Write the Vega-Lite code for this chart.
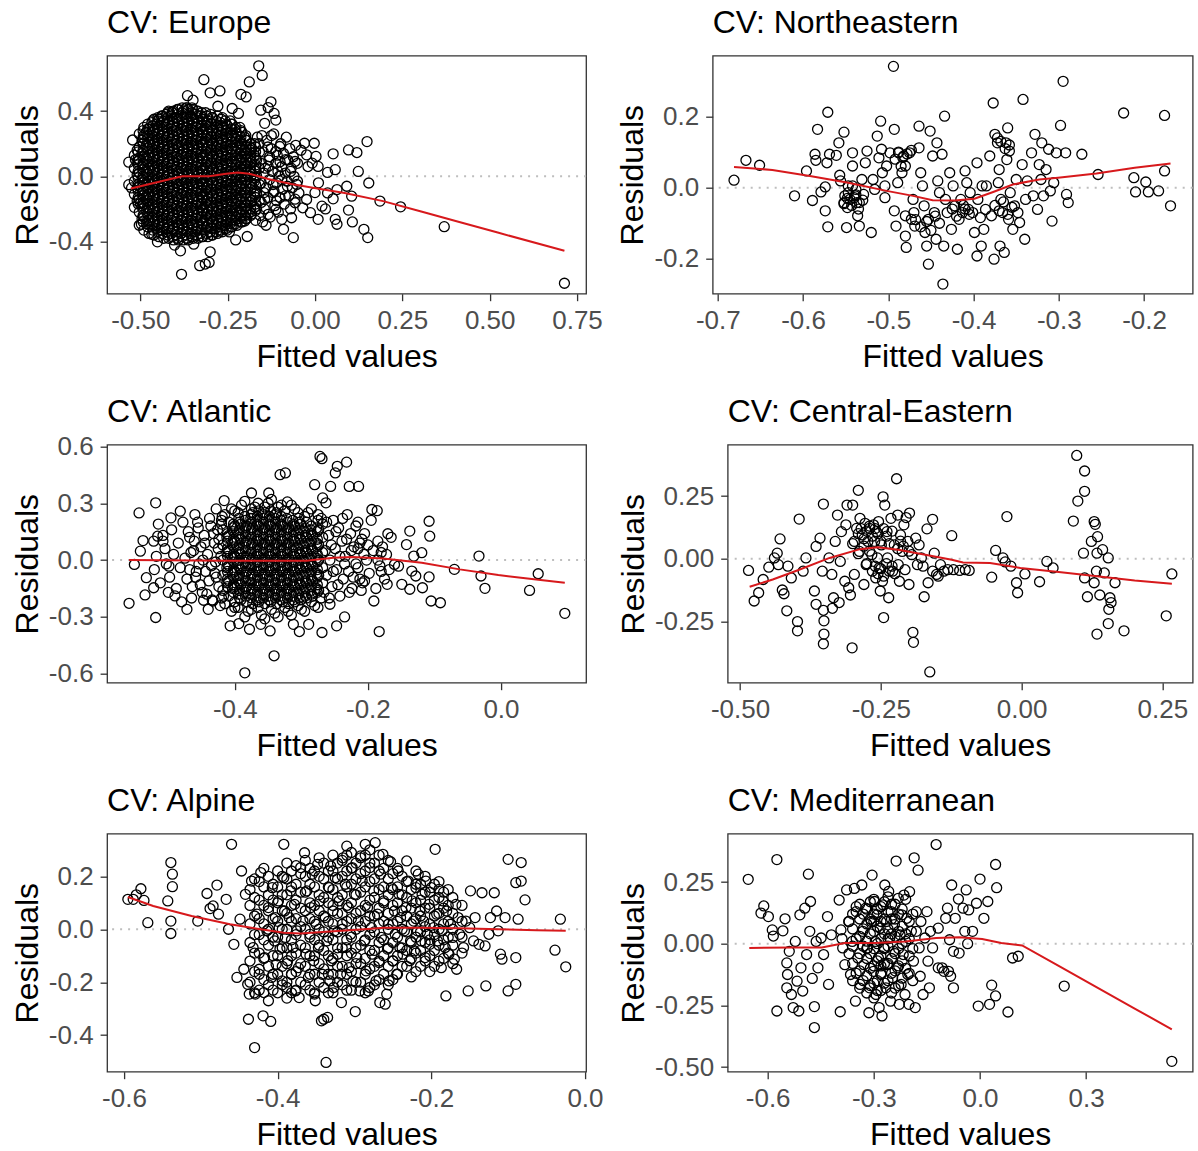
{
"$schema": "https://vega.github.io/schema/vega-lite/v6.json",
"background": "white",
"padding": {"left": 10.1, "top": 5.7, "right": 5, "bottom": 5},
"config": {
 "font": "Liberation Sans",
 "view": {"stroke": "#333333", "strokeWidth": 1.3},
 "axis": {"grid": false, "domain": false, "ticks": true, "tickColor": "#333333", "tickWidth": 1.3, "tickSize": 7, "labelPadding": 7, "labelFont": "Liberation Sans", "labelFontSize": 26, "labelColor": "#4D4D4D", "titleFont": "Liberation Sans", "titleFontSize": 32, "titleFontWeight": "normal", "titleColor": "#000000", "labelFlush": false, "labelOverlap": false},
 "axisX": {"titlePadding": 8},
 "axisY": {"titlePadding": 4},
 "title": {"anchor": "start", "frame": "group", "font": "Liberation Sans", "fontSize": 32, "fontWeight": "normal", "color": "#000000", "baseline": "alphabetic", "offset": 15.5}
},
"datasets": {
"eu": [
{"x":-0.517,"y":-0.19},{"x":-0.509,"y":-0.15},{"x":-0.517,"y":-0.11},{"x":-0.509,"y":-0.07},{"x":-0.517,"y":-0.03},{"x":-0.509,"y":0.01},{"x":-0.517,"y":0.05},{"x":-0.509,"y":0.09},{"x":-0.517,"y":0.13},{"x":-0.509,"y":0.16},
{"x":-0.503,"y":-0.30},{"x":-0.495,"y":-0.26},{"x":-0.503,"y":-0.22},{"x":-0.495,"y":-0.18},{"x":-0.503,"y":-0.14},{"x":-0.495,"y":-0.10},{"x":-0.503,"y":-0.06},{"x":-0.495,"y":-0.02},{"x":-0.503,"y":0.02},{"x":-0.495,"y":0.06},{"x":-0.503,"y":0.10},{"x":-0.495,"y":0.14},{"x":-0.503,"y":0.18},{"x":-0.495,"y":0.22},{"x":-0.503,"y":0.26},
{"x":-0.490,"y":-0.33},{"x":-0.482,"y":-0.29},{"x":-0.490,"y":-0.25},{"x":-0.482,"y":-0.21},{"x":-0.490,"y":-0.17},{"x":-0.482,"y":-0.13},{"x":-0.490,"y":-0.09},{"x":-0.482,"y":-0.05},{"x":-0.490,"y":-0.01},{"x":-0.482,"y":0.03},{"x":-0.490,"y":0.07},{"x":-0.482,"y":0.11},{"x":-0.490,"y":0.15},{"x":-0.482,"y":0.19},{"x":-0.490,"y":0.23},{"x":-0.482,"y":0.27},{"x":-0.490,"y":0.30},
{"x":-0.475,"y":-0.35},{"x":-0.467,"y":-0.31},{"x":-0.475,"y":-0.27},{"x":-0.467,"y":-0.23},{"x":-0.475,"y":-0.19},{"x":-0.467,"y":-0.15},{"x":-0.475,"y":-0.11},{"x":-0.467,"y":-0.07},{"x":-0.475,"y":-0.03},{"x":-0.467,"y":0.01},{"x":-0.475,"y":0.05},{"x":-0.467,"y":0.09},{"x":-0.475,"y":0.13},{"x":-0.467,"y":0.17},{"x":-0.475,"y":0.21},{"x":-0.467,"y":0.25},{"x":-0.475,"y":0.29},{"x":-0.467,"y":0.33},
{"x":-0.461,"y":-0.36},{"x":-0.453,"y":-0.32},{"x":-0.461,"y":-0.28},{"x":-0.453,"y":-0.24},{"x":-0.461,"y":-0.20},{"x":-0.453,"y":-0.16},{"x":-0.461,"y":-0.12},{"x":-0.453,"y":-0.08},{"x":-0.461,"y":-0.04},{"x":-0.453,"y":0.00},{"x":-0.461,"y":0.04},{"x":-0.453,"y":0.08},{"x":-0.461,"y":0.12},{"x":-0.453,"y":0.16},{"x":-0.461,"y":0.20},{"x":-0.453,"y":0.24},{"x":-0.461,"y":0.28},{"x":-0.453,"y":0.32},{"x":-0.461,"y":0.35},
{"x":-0.447,"y":-0.37},{"x":-0.439,"y":-0.33},{"x":-0.447,"y":-0.29},{"x":-0.439,"y":-0.25},{"x":-0.447,"y":-0.21},{"x":-0.439,"y":-0.17},{"x":-0.447,"y":-0.13},{"x":-0.439,"y":-0.09},{"x":-0.447,"y":-0.05},{"x":-0.439,"y":-0.01},{"x":-0.447,"y":0.03},{"x":-0.439,"y":0.07},{"x":-0.447,"y":0.11},{"x":-0.439,"y":0.15},{"x":-0.447,"y":0.19},{"x":-0.439,"y":0.23},{"x":-0.447,"y":0.27},{"x":-0.439,"y":0.31},{"x":-0.447,"y":0.35},{"x":-0.439,"y":0.37},
{"x":-0.433,"y":-0.38},{"x":-0.425,"y":-0.34},{"x":-0.433,"y":-0.30},{"x":-0.425,"y":-0.26},{"x":-0.433,"y":-0.22},{"x":-0.425,"y":-0.18},{"x":-0.433,"y":-0.14},{"x":-0.425,"y":-0.10},{"x":-0.433,"y":-0.06},{"x":-0.425,"y":-0.02},{"x":-0.433,"y":0.02},{"x":-0.425,"y":0.06},{"x":-0.433,"y":0.10},{"x":-0.425,"y":0.14},{"x":-0.433,"y":0.18},{"x":-0.425,"y":0.22},{"x":-0.433,"y":0.26},{"x":-0.425,"y":0.30},{"x":-0.433,"y":0.34},{"x":-0.425,"y":0.38},
{"x":-0.419,"y":-0.38},{"x":-0.411,"y":-0.35},{"x":-0.419,"y":-0.31},{"x":-0.411,"y":-0.27},{"x":-0.419,"y":-0.23},{"x":-0.411,"y":-0.19},{"x":-0.419,"y":-0.15},{"x":-0.411,"y":-0.11},{"x":-0.419,"y":-0.07},{"x":-0.411,"y":-0.03},{"x":-0.419,"y":0.01},{"x":-0.411,"y":0.05},{"x":-0.419,"y":0.09},{"x":-0.411,"y":0.13},{"x":-0.419,"y":0.17},{"x":-0.411,"y":0.21},{"x":-0.419,"y":0.25},{"x":-0.411,"y":0.29},{"x":-0.419,"y":0.33},{"x":-0.411,"y":0.37},{"x":-0.419,"y":0.40},
{"x":-0.405,"y":-0.39},{"x":-0.397,"y":-0.36},{"x":-0.405,"y":-0.32},{"x":-0.397,"y":-0.28},{"x":-0.405,"y":-0.24},{"x":-0.397,"y":-0.20},{"x":-0.405,"y":-0.16},{"x":-0.397,"y":-0.12},{"x":-0.405,"y":-0.08},{"x":-0.397,"y":-0.04},{"x":-0.405,"y":0.00},{"x":-0.397,"y":0.04},{"x":-0.405,"y":0.08},{"x":-0.397,"y":0.12},{"x":-0.405,"y":0.16},{"x":-0.397,"y":0.20},{"x":-0.405,"y":0.24},{"x":-0.397,"y":0.28},{"x":-0.405,"y":0.32},{"x":-0.397,"y":0.36},{"x":-0.405,"y":0.40},
{"x":-0.391,"y":-0.39},{"x":-0.383,"y":-0.35},{"x":-0.391,"y":-0.31},{"x":-0.383,"y":-0.27},{"x":-0.391,"y":-0.23},{"x":-0.383,"y":-0.19},{"x":-0.391,"y":-0.15},{"x":-0.383,"y":-0.11},{"x":-0.391,"y":-0.07},{"x":-0.383,"y":-0.03},{"x":-0.391,"y":0.01},{"x":-0.383,"y":0.05},{"x":-0.391,"y":0.09},{"x":-0.383,"y":0.13},{"x":-0.391,"y":0.17},{"x":-0.383,"y":0.21},{"x":-0.391,"y":0.25},{"x":-0.383,"y":0.29},{"x":-0.391,"y":0.33},{"x":-0.383,"y":0.37},{"x":-0.391,"y":0.41},
{"x":-0.377,"y":-0.39},{"x":-0.369,"y":-0.36},{"x":-0.377,"y":-0.32},{"x":-0.369,"y":-0.28},{"x":-0.377,"y":-0.24},{"x":-0.369,"y":-0.20},{"x":-0.377,"y":-0.16},{"x":-0.369,"y":-0.12},{"x":-0.377,"y":-0.08},{"x":-0.369,"y":-0.04},{"x":-0.377,"y":0.00},{"x":-0.369,"y":0.04},{"x":-0.377,"y":0.08},{"x":-0.369,"y":0.12},{"x":-0.377,"y":0.16},{"x":-0.369,"y":0.20},{"x":-0.377,"y":0.24},{"x":-0.369,"y":0.28},{"x":-0.377,"y":0.32},{"x":-0.369,"y":0.36},{"x":-0.377,"y":0.40},{"x":-0.369,"y":0.42},
{"x":-0.363,"y":-0.39},{"x":-0.355,"y":-0.35},{"x":-0.363,"y":-0.31},{"x":-0.355,"y":-0.27},{"x":-0.363,"y":-0.23},{"x":-0.355,"y":-0.19},{"x":-0.363,"y":-0.15},{"x":-0.355,"y":-0.11},{"x":-0.363,"y":-0.07},{"x":-0.355,"y":-0.03},{"x":-0.363,"y":0.01},{"x":-0.355,"y":0.05},{"x":-0.363,"y":0.09},{"x":-0.355,"y":0.13},{"x":-0.363,"y":0.17},{"x":-0.355,"y":0.21},{"x":-0.363,"y":0.25},{"x":-0.355,"y":0.29},{"x":-0.363,"y":0.33},{"x":-0.355,"y":0.37},{"x":-0.363,"y":0.41},
{"x":-0.349,"y":-0.38},{"x":-0.341,"y":-0.34},{"x":-0.349,"y":-0.30},{"x":-0.341,"y":-0.26},{"x":-0.349,"y":-0.22},{"x":-0.341,"y":-0.18},{"x":-0.349,"y":-0.14},{"x":-0.341,"y":-0.10},{"x":-0.349,"y":-0.06},{"x":-0.341,"y":-0.02},{"x":-0.349,"y":0.02},{"x":-0.341,"y":0.06},{"x":-0.349,"y":0.10},{"x":-0.341,"y":0.14},{"x":-0.349,"y":0.18},{"x":-0.341,"y":0.22},{"x":-0.349,"y":0.26},{"x":-0.341,"y":0.30},{"x":-0.349,"y":0.34},{"x":-0.341,"y":0.38},{"x":-0.349,"y":0.41},
{"x":-0.335,"y":-0.38},{"x":-0.327,"y":-0.35},{"x":-0.335,"y":-0.31},{"x":-0.327,"y":-0.27},{"x":-0.335,"y":-0.23},{"x":-0.327,"y":-0.19},{"x":-0.335,"y":-0.15},{"x":-0.327,"y":-0.11},{"x":-0.335,"y":-0.07},{"x":-0.327,"y":-0.03},{"x":-0.335,"y":0.01},{"x":-0.327,"y":0.05},{"x":-0.335,"y":0.09},{"x":-0.327,"y":0.13},{"x":-0.335,"y":0.17},{"x":-0.327,"y":0.21},{"x":-0.335,"y":0.25},{"x":-0.327,"y":0.29},{"x":-0.335,"y":0.33},{"x":-0.327,"y":0.37},{"x":-0.335,"y":0.40},
{"x":-0.321,"y":-0.37},{"x":-0.313,"y":-0.33},{"x":-0.321,"y":-0.29},{"x":-0.313,"y":-0.25},{"x":-0.321,"y":-0.21},{"x":-0.313,"y":-0.17},{"x":-0.321,"y":-0.13},{"x":-0.313,"y":-0.09},{"x":-0.321,"y":-0.05},{"x":-0.313,"y":-0.01},{"x":-0.321,"y":0.03},{"x":-0.313,"y":0.07},{"x":-0.321,"y":0.11},{"x":-0.313,"y":0.15},{"x":-0.321,"y":0.19},{"x":-0.313,"y":0.23},{"x":-0.321,"y":0.27},{"x":-0.313,"y":0.31},{"x":-0.321,"y":0.35},{"x":-0.313,"y":0.39},
{"x":-0.307,"y":-0.37},{"x":-0.299,"y":-0.34},{"x":-0.307,"y":-0.30},{"x":-0.299,"y":-0.26},{"x":-0.307,"y":-0.22},{"x":-0.299,"y":-0.18},{"x":-0.307,"y":-0.14},{"x":-0.299,"y":-0.10},{"x":-0.307,"y":-0.06},{"x":-0.299,"y":-0.02},{"x":-0.307,"y":0.02},{"x":-0.299,"y":0.06},{"x":-0.307,"y":0.10},{"x":-0.299,"y":0.14},{"x":-0.307,"y":0.18},{"x":-0.299,"y":0.22},{"x":-0.307,"y":0.26},{"x":-0.299,"y":0.30},{"x":-0.307,"y":0.34},{"x":-0.299,"y":0.38},
{"x":-0.293,"y":-0.36},{"x":-0.285,"y":-0.32},{"x":-0.293,"y":-0.28},{"x":-0.285,"y":-0.24},{"x":-0.293,"y":-0.20},{"x":-0.285,"y":-0.16},{"x":-0.293,"y":-0.12},{"x":-0.285,"y":-0.08},{"x":-0.293,"y":-0.04},{"x":-0.285,"y":0.00},{"x":-0.293,"y":0.04},{"x":-0.285,"y":0.08},{"x":-0.293,"y":0.12},{"x":-0.285,"y":0.16},{"x":-0.293,"y":0.20},{"x":-0.285,"y":0.24},{"x":-0.293,"y":0.28},{"x":-0.285,"y":0.32},{"x":-0.293,"y":0.36},
{"x":-0.279,"y":-0.35},{"x":-0.271,"y":-0.31},{"x":-0.279,"y":-0.27},{"x":-0.271,"y":-0.23},{"x":-0.279,"y":-0.19},{"x":-0.271,"y":-0.15},{"x":-0.279,"y":-0.11},{"x":-0.271,"y":-0.07},{"x":-0.279,"y":-0.03},{"x":-0.271,"y":0.01},{"x":-0.279,"y":0.05},{"x":-0.271,"y":0.09},{"x":-0.279,"y":0.13},{"x":-0.271,"y":0.17},{"x":-0.279,"y":0.21},{"x":-0.271,"y":0.25},{"x":-0.279,"y":0.29},{"x":-0.271,"y":0.33},{"x":-0.279,"y":0.37},
{"x":-0.265,"y":-0.34},{"x":-0.257,"y":-0.30},{"x":-0.265,"y":-0.26},{"x":-0.257,"y":-0.22},{"x":-0.265,"y":-0.18},{"x":-0.257,"y":-0.14},{"x":-0.265,"y":-0.10},{"x":-0.257,"y":-0.06},{"x":-0.265,"y":-0.02},{"x":-0.257,"y":0.02},{"x":-0.265,"y":0.06},{"x":-0.257,"y":0.10},{"x":-0.265,"y":0.14},{"x":-0.257,"y":0.18},{"x":-0.265,"y":0.22},{"x":-0.257,"y":0.26},{"x":-0.265,"y":0.30},{"x":-0.257,"y":0.34},{"x":-0.265,"y":0.36},
{"x":-0.251,"y":-0.33},{"x":-0.243,"y":-0.29},{"x":-0.251,"y":-0.25},{"x":-0.243,"y":-0.21},{"x":-0.251,"y":-0.17},{"x":-0.243,"y":-0.13},{"x":-0.251,"y":-0.09},{"x":-0.243,"y":-0.05},{"x":-0.251,"y":-0.01},{"x":-0.243,"y":0.03},{"x":-0.251,"y":0.07},{"x":-0.243,"y":0.11},{"x":-0.251,"y":0.15},{"x":-0.243,"y":0.19},{"x":-0.251,"y":0.23},{"x":-0.243,"y":0.27},{"x":-0.251,"y":0.31},{"x":-0.243,"y":0.34},
{"x":-0.237,"y":-0.31},{"x":-0.229,"y":-0.27},{"x":-0.237,"y":-0.23},{"x":-0.229,"y":-0.19},{"x":-0.237,"y":-0.15},{"x":-0.229,"y":-0.11},{"x":-0.237,"y":-0.07},{"x":-0.229,"y":-0.03},{"x":-0.237,"y":0.01},{"x":-0.229,"y":0.05},{"x":-0.237,"y":0.09},{"x":-0.229,"y":0.13},{"x":-0.237,"y":0.17},{"x":-0.229,"y":0.21},{"x":-0.237,"y":0.25},{"x":-0.229,"y":0.29},{"x":-0.237,"y":0.32},
{"x":-0.223,"y":-0.30},{"x":-0.215,"y":-0.26},{"x":-0.223,"y":-0.22},{"x":-0.215,"y":-0.18},{"x":-0.223,"y":-0.14},{"x":-0.215,"y":-0.10},{"x":-0.223,"y":-0.06},{"x":-0.215,"y":-0.02},{"x":-0.223,"y":0.02},{"x":-0.215,"y":0.06},{"x":-0.223,"y":0.10},{"x":-0.215,"y":0.14},{"x":-0.223,"y":0.18},{"x":-0.215,"y":0.22},{"x":-0.223,"y":0.26},{"x":-0.215,"y":0.30},
{"x":-0.209,"y":-0.28},{"x":-0.201,"y":-0.24},{"x":-0.209,"y":-0.20},{"x":-0.201,"y":-0.16},{"x":-0.209,"y":-0.12},{"x":-0.201,"y":-0.08},{"x":-0.209,"y":-0.04},{"x":-0.201,"y":0.00},{"x":-0.209,"y":0.04},{"x":-0.201,"y":0.08},{"x":-0.209,"y":0.12},{"x":-0.201,"y":0.16},{"x":-0.209,"y":0.20},{"x":-0.201,"y":0.24},{"x":-0.209,"y":0.27},
{"x":-0.195,"y":-0.26},{"x":-0.187,"y":-0.22},{"x":-0.195,"y":-0.18},{"x":-0.187,"y":-0.14},{"x":-0.195,"y":-0.10},{"x":-0.187,"y":-0.06},{"x":-0.195,"y":-0.02},{"x":-0.187,"y":0.02},{"x":-0.195,"y":0.06},{"x":-0.187,"y":0.10},{"x":-0.195,"y":0.14},{"x":-0.187,"y":0.18},{"x":-0.195,"y":0.22},
{"x":-0.181,"y":-0.23},{"x":-0.173,"y":-0.19},{"x":-0.181,"y":-0.15},{"x":-0.173,"y":-0.11},{"x":-0.181,"y":-0.07},{"x":-0.173,"y":-0.03},{"x":-0.181,"y":0.01},{"x":-0.173,"y":0.05},{"x":-0.181,"y":0.09},{"x":-0.173,"y":0.13},{"x":-0.181,"y":0.17},{"x":-0.173,"y":0.20},
{"x":-0.167,"y":-0.20},{"x":-0.159,"y":-0.15},{"x":-0.167,"y":-0.10},{"x":-0.159,"y":-0.05},{"x":-0.167,"y":0.00},{"x":-0.159,"y":0.05},{"x":-0.167,"y":0.10},{"x":-0.159,"y":0.15},
{"x":-0.154,"y":-0.16},{"x":-0.146,"y":-0.10},{"x":-0.154,"y":-0.04},{"x":-0.146,"y":0.02},{"x":-0.154,"y":0.08},
{"x":-0.506,"y":-0.17},{"x":-0.506,"y":-0.13},{"x":-0.506,"y":-0.09},{"x":-0.506,"y":-0.05},{"x":-0.506,"y":-0.01},{"x":-0.506,"y":0.03},{"x":-0.506,"y":0.07},{"x":-0.506,"y":0.11},{"x":-0.506,"y":0.15},
{"x":-0.492,"y":-0.28},{"x":-0.492,"y":-0.24},{"x":-0.492,"y":-0.20},{"x":-0.492,"y":-0.16},{"x":-0.492,"y":-0.12},{"x":-0.492,"y":-0.08},{"x":-0.492,"y":-0.04},{"x":-0.492,"y":0.00},{"x":-0.492,"y":0.04},{"x":-0.492,"y":0.08},{"x":-0.492,"y":0.12},{"x":-0.492,"y":0.16},{"x":-0.492,"y":0.20},{"x":-0.492,"y":0.24},{"x":-0.492,"y":0.28},
{"x":-0.479,"y":-0.31},{"x":-0.479,"y":-0.27},{"x":-0.479,"y":-0.23},{"x":-0.479,"y":-0.19},{"x":-0.479,"y":-0.15},{"x":-0.479,"y":-0.11},{"x":-0.479,"y":-0.07},{"x":-0.479,"y":-0.03},{"x":-0.479,"y":0.01},{"x":-0.479,"y":0.05},{"x":-0.479,"y":0.09},{"x":-0.479,"y":0.13},{"x":-0.479,"y":0.17},{"x":-0.479,"y":0.21},{"x":-0.479,"y":0.25},{"x":-0.479,"y":0.29},{"x":-0.479,"y":0.32},
{"x":-0.464,"y":-0.33},{"x":-0.464,"y":-0.29},{"x":-0.464,"y":-0.25},{"x":-0.464,"y":-0.21},{"x":-0.464,"y":-0.17},{"x":-0.464,"y":-0.13},{"x":-0.464,"y":-0.09},{"x":-0.464,"y":-0.05},{"x":-0.464,"y":-0.01},{"x":-0.464,"y":0.03},{"x":-0.464,"y":0.07},{"x":-0.464,"y":0.11},{"x":-0.464,"y":0.15},{"x":-0.464,"y":0.19},{"x":-0.464,"y":0.23},{"x":-0.464,"y":0.27},{"x":-0.464,"y":0.31},{"x":-0.464,"y":0.34},
{"x":-0.450,"y":-0.34},{"x":-0.450,"y":-0.30},{"x":-0.450,"y":-0.26},{"x":-0.450,"y":-0.22},{"x":-0.450,"y":-0.18},{"x":-0.450,"y":-0.14},{"x":-0.450,"y":-0.10},{"x":-0.450,"y":-0.06},{"x":-0.450,"y":-0.02},{"x":-0.450,"y":0.02},{"x":-0.450,"y":0.06},{"x":-0.450,"y":0.10},{"x":-0.450,"y":0.14},{"x":-0.450,"y":0.18},{"x":-0.450,"y":0.22},{"x":-0.450,"y":0.26},{"x":-0.450,"y":0.30},{"x":-0.450,"y":0.34},{"x":-0.450,"y":0.36},
{"x":-0.436,"y":-0.35},{"x":-0.436,"y":-0.31},{"x":-0.436,"y":-0.27},{"x":-0.436,"y":-0.23},{"x":-0.436,"y":-0.19},{"x":-0.436,"y":-0.15},{"x":-0.436,"y":-0.11},{"x":-0.436,"y":-0.07},{"x":-0.436,"y":-0.03},{"x":-0.436,"y":0.01},{"x":-0.436,"y":0.05},{"x":-0.436,"y":0.09},{"x":-0.436,"y":0.13},{"x":-0.436,"y":0.17},{"x":-0.436,"y":0.21},{"x":-0.436,"y":0.25},{"x":-0.436,"y":0.29},{"x":-0.436,"y":0.33},{"x":-0.436,"y":0.37},
{"x":-0.422,"y":-0.36},{"x":-0.422,"y":-0.32},{"x":-0.422,"y":-0.28},{"x":-0.422,"y":-0.24},{"x":-0.422,"y":-0.20},{"x":-0.422,"y":-0.16},{"x":-0.422,"y":-0.12},{"x":-0.422,"y":-0.08},{"x":-0.422,"y":-0.04},{"x":-0.422,"y":0.00},{"x":-0.422,"y":0.04},{"x":-0.422,"y":0.08},{"x":-0.422,"y":0.12},{"x":-0.422,"y":0.16},{"x":-0.422,"y":0.20},{"x":-0.422,"y":0.24},{"x":-0.422,"y":0.28},{"x":-0.422,"y":0.32},{"x":-0.422,"y":0.36},{"x":-0.422,"y":0.39},
{"x":-0.408,"y":-0.37},{"x":-0.408,"y":-0.33},{"x":-0.408,"y":-0.29},{"x":-0.408,"y":-0.25},{"x":-0.408,"y":-0.21},{"x":-0.408,"y":-0.17},{"x":-0.408,"y":-0.13},{"x":-0.408,"y":-0.09},{"x":-0.408,"y":-0.05},{"x":-0.408,"y":-0.01},{"x":-0.408,"y":0.03},{"x":-0.408,"y":0.07},{"x":-0.408,"y":0.11},{"x":-0.408,"y":0.15},{"x":-0.408,"y":0.19},{"x":-0.408,"y":0.23},{"x":-0.408,"y":0.27},{"x":-0.408,"y":0.31},{"x":-0.408,"y":0.35},{"x":-0.408,"y":0.39},
{"x":-0.394,"y":-0.38},{"x":-0.394,"y":-0.34},{"x":-0.394,"y":-0.30},{"x":-0.394,"y":-0.26},{"x":-0.394,"y":-0.22},{"x":-0.394,"y":-0.18},{"x":-0.394,"y":-0.14},{"x":-0.394,"y":-0.10},{"x":-0.394,"y":-0.06},{"x":-0.394,"y":-0.02},{"x":-0.394,"y":0.02},{"x":-0.394,"y":0.06},{"x":-0.394,"y":0.10},{"x":-0.394,"y":0.14},{"x":-0.394,"y":0.18},{"x":-0.394,"y":0.22},{"x":-0.394,"y":0.26},{"x":-0.394,"y":0.30},{"x":-0.394,"y":0.34},{"x":-0.394,"y":0.38},{"x":-0.394,"y":0.41},
{"x":-0.380,"y":-0.37},{"x":-0.380,"y":-0.33},{"x":-0.380,"y":-0.29},{"x":-0.380,"y":-0.25},{"x":-0.380,"y":-0.21},{"x":-0.380,"y":-0.17},{"x":-0.380,"y":-0.13},{"x":-0.380,"y":-0.09},{"x":-0.380,"y":-0.05},{"x":-0.380,"y":-0.01},{"x":-0.380,"y":0.03},{"x":-0.380,"y":0.07},{"x":-0.380,"y":0.11},{"x":-0.380,"y":0.15},{"x":-0.380,"y":0.19},{"x":-0.380,"y":0.23},{"x":-0.380,"y":0.27},{"x":-0.380,"y":0.31},{"x":-0.380,"y":0.35},{"x":-0.380,"y":0.39},{"x":-0.380,"y":0.42},
{"x":-0.366,"y":-0.38},{"x":-0.366,"y":-0.34},{"x":-0.366,"y":-0.30},{"x":-0.366,"y":-0.26},{"x":-0.366,"y":-0.22},{"x":-0.366,"y":-0.18},{"x":-0.366,"y":-0.14},{"x":-0.366,"y":-0.10},{"x":-0.366,"y":-0.06},{"x":-0.366,"y":-0.02},{"x":-0.366,"y":0.02},{"x":-0.366,"y":0.06},{"x":-0.366,"y":0.10},{"x":-0.366,"y":0.14},{"x":-0.366,"y":0.18},{"x":-0.366,"y":0.22},{"x":-0.366,"y":0.26},{"x":-0.366,"y":0.30},{"x":-0.366,"y":0.34},{"x":-0.366,"y":0.38},{"x":-0.366,"y":0.42},
{"x":-0.352,"y":-0.37},{"x":-0.352,"y":-0.33},{"x":-0.352,"y":-0.29},{"x":-0.352,"y":-0.25},{"x":-0.352,"y":-0.21},{"x":-0.352,"y":-0.17},{"x":-0.352,"y":-0.13},{"x":-0.352,"y":-0.09},{"x":-0.352,"y":-0.05},{"x":-0.352,"y":-0.01},{"x":-0.352,"y":0.03},{"x":-0.352,"y":0.07},{"x":-0.352,"y":0.11},{"x":-0.352,"y":0.15},{"x":-0.352,"y":0.19},{"x":-0.352,"y":0.23},{"x":-0.352,"y":0.27},{"x":-0.352,"y":0.31},{"x":-0.352,"y":0.35},{"x":-0.352,"y":0.39},{"x":-0.352,"y":0.42},
{"x":-0.338,"y":-0.36},{"x":-0.338,"y":-0.32},{"x":-0.338,"y":-0.28},{"x":-0.338,"y":-0.24},{"x":-0.338,"y":-0.20},{"x":-0.338,"y":-0.16},{"x":-0.338,"y":-0.12},{"x":-0.338,"y":-0.08},{"x":-0.338,"y":-0.04},{"x":-0.338,"y":0.00},{"x":-0.338,"y":0.04},{"x":-0.338,"y":0.08},{"x":-0.338,"y":0.12},{"x":-0.338,"y":0.16},{"x":-0.338,"y":0.20},{"x":-0.338,"y":0.24},{"x":-0.338,"y":0.28},{"x":-0.338,"y":0.32},{"x":-0.338,"y":0.36},{"x":-0.338,"y":0.40},
{"x":-0.324,"y":-0.37},{"x":-0.324,"y":-0.33},{"x":-0.324,"y":-0.29},{"x":-0.324,"y":-0.25},{"x":-0.324,"y":-0.21},{"x":-0.324,"y":-0.17},{"x":-0.324,"y":-0.13},{"x":-0.324,"y":-0.09},{"x":-0.324,"y":-0.05},{"x":-0.324,"y":-0.01},{"x":-0.324,"y":0.03},{"x":-0.324,"y":0.07},{"x":-0.324,"y":0.11},{"x":-0.324,"y":0.15},{"x":-0.324,"y":0.19},{"x":-0.324,"y":0.23},{"x":-0.324,"y":0.27},{"x":-0.324,"y":0.31},{"x":-0.324,"y":0.35},{"x":-0.324,"y":0.39},
{"x":-0.310,"y":-0.35},{"x":-0.310,"y":-0.31},{"x":-0.310,"y":-0.27},{"x":-0.310,"y":-0.23},{"x":-0.310,"y":-0.19},{"x":-0.310,"y":-0.15},{"x":-0.310,"y":-0.11},{"x":-0.310,"y":-0.07},{"x":-0.310,"y":-0.03},{"x":-0.310,"y":0.01},{"x":-0.310,"y":0.05},{"x":-0.310,"y":0.09},{"x":-0.310,"y":0.13},{"x":-0.310,"y":0.17},{"x":-0.310,"y":0.21},{"x":-0.310,"y":0.25},{"x":-0.310,"y":0.29},{"x":-0.310,"y":0.33},{"x":-0.310,"y":0.37},
{"x":-0.296,"y":-0.36},{"x":-0.296,"y":-0.32},{"x":-0.296,"y":-0.28},{"x":-0.296,"y":-0.24},{"x":-0.296,"y":-0.20},{"x":-0.296,"y":-0.16},{"x":-0.296,"y":-0.12},{"x":-0.296,"y":-0.08},{"x":-0.296,"y":-0.04},{"x":-0.296,"y":0.00},{"x":-0.296,"y":0.04},{"x":-0.296,"y":0.08},{"x":-0.296,"y":0.12},{"x":-0.296,"y":0.16},{"x":-0.296,"y":0.20},{"x":-0.296,"y":0.24},{"x":-0.296,"y":0.28},{"x":-0.296,"y":0.32},{"x":-0.296,"y":0.36},
{"x":-0.282,"y":-0.34},{"x":-0.282,"y":-0.30},{"x":-0.282,"y":-0.26},{"x":-0.282,"y":-0.22},{"x":-0.282,"y":-0.18},{"x":-0.282,"y":-0.14},{"x":-0.282,"y":-0.10},{"x":-0.282,"y":-0.06},{"x":-0.282,"y":-0.02},{"x":-0.282,"y":0.02},{"x":-0.282,"y":0.06},{"x":-0.282,"y":0.10},{"x":-0.282,"y":0.14},{"x":-0.282,"y":0.18},{"x":-0.282,"y":0.22},{"x":-0.282,"y":0.26},{"x":-0.282,"y":0.30},{"x":-0.282,"y":0.34},
{"x":-0.268,"y":-0.33},{"x":-0.268,"y":-0.29},{"x":-0.268,"y":-0.25},{"x":-0.268,"y":-0.21},{"x":-0.268,"y":-0.17},{"x":-0.268,"y":-0.13},{"x":-0.268,"y":-0.09},{"x":-0.268,"y":-0.05},{"x":-0.268,"y":-0.01},{"x":-0.268,"y":0.03},{"x":-0.268,"y":0.07},{"x":-0.268,"y":0.11},{"x":-0.268,"y":0.15},{"x":-0.268,"y":0.19},{"x":-0.268,"y":0.23},{"x":-0.268,"y":0.27},{"x":-0.268,"y":0.31},{"x":-0.268,"y":0.35},
{"x":-0.254,"y":-0.32},{"x":-0.254,"y":-0.28},{"x":-0.254,"y":-0.24},{"x":-0.254,"y":-0.20},{"x":-0.254,"y":-0.16},{"x":-0.254,"y":-0.12},{"x":-0.254,"y":-0.08},{"x":-0.254,"y":-0.04},{"x":-0.254,"y":0.00},{"x":-0.254,"y":0.04},{"x":-0.254,"y":0.08},{"x":-0.254,"y":0.12},{"x":-0.254,"y":0.16},{"x":-0.254,"y":0.20},{"x":-0.254,"y":0.24},{"x":-0.254,"y":0.28},{"x":-0.254,"y":0.32},
{"x":-0.240,"y":-0.31},{"x":-0.240,"y":-0.27},{"x":-0.240,"y":-0.23},{"x":-0.240,"y":-0.19},{"x":-0.240,"y":-0.15},{"x":-0.240,"y":-0.11},{"x":-0.240,"y":-0.07},{"x":-0.240,"y":-0.03},{"x":-0.240,"y":0.01},{"x":-0.240,"y":0.05},{"x":-0.240,"y":0.09},{"x":-0.240,"y":0.13},{"x":-0.240,"y":0.17},{"x":-0.240,"y":0.21},{"x":-0.240,"y":0.25},{"x":-0.240,"y":0.29},{"x":-0.240,"y":0.32},
{"x":-0.226,"y":-0.29},{"x":-0.226,"y":-0.25},{"x":-0.226,"y":-0.21},{"x":-0.226,"y":-0.17},{"x":-0.226,"y":-0.13},{"x":-0.226,"y":-0.09},{"x":-0.226,"y":-0.05},{"x":-0.226,"y":-0.01},{"x":-0.226,"y":0.03},{"x":-0.226,"y":0.07},{"x":-0.226,"y":0.11},{"x":-0.226,"y":0.15},{"x":-0.226,"y":0.19},{"x":-0.226,"y":0.23},{"x":-0.226,"y":0.27},{"x":-0.226,"y":0.30},
{"x":-0.212,"y":-0.28},{"x":-0.212,"y":-0.24},{"x":-0.212,"y":-0.20},{"x":-0.212,"y":-0.16},{"x":-0.212,"y":-0.12},{"x":-0.212,"y":-0.08},{"x":-0.212,"y":-0.04},{"x":-0.212,"y":0.00},{"x":-0.212,"y":0.04},{"x":-0.212,"y":0.08},{"x":-0.212,"y":0.12},{"x":-0.212,"y":0.16},{"x":-0.212,"y":0.20},{"x":-0.212,"y":0.24},{"x":-0.212,"y":0.28},
{"x":-0.198,"y":-0.26},{"x":-0.198,"y":-0.22},{"x":-0.198,"y":-0.18},{"x":-0.198,"y":-0.14},{"x":-0.198,"y":-0.10},{"x":-0.198,"y":-0.06},{"x":-0.198,"y":-0.02},{"x":-0.198,"y":0.02},{"x":-0.198,"y":0.06},{"x":-0.198,"y":0.10},{"x":-0.198,"y":0.14},{"x":-0.198,"y":0.18},{"x":-0.198,"y":0.22},{"x":-0.198,"y":0.25},
{"x":-0.184,"y":-0.24},{"x":-0.184,"y":-0.20},{"x":-0.184,"y":-0.16},{"x":-0.184,"y":-0.12},{"x":-0.184,"y":-0.08},{"x":-0.184,"y":-0.04},{"x":-0.184,"y":0.00},{"x":-0.184,"y":0.04},{"x":-0.184,"y":0.08},{"x":-0.184,"y":0.12},{"x":-0.184,"y":0.16},{"x":-0.184,"y":0.20},
{"x":-0.170,"y":-0.21},{"x":-0.170,"y":-0.17},{"x":-0.170,"y":-0.13},{"x":-0.170,"y":-0.09},{"x":-0.170,"y":-0.05},{"x":-0.170,"y":-0.01},{"x":-0.170,"y":0.03},{"x":-0.170,"y":0.07},{"x":-0.170,"y":0.11},{"x":-0.170,"y":0.15},{"x":-0.170,"y":0.18},
{"x":-0.148,"y":0.15},{"x":-0.145,"y":-0.20},{"x":-0.142,"y":0.05},{"x":-0.140,"y":-0.07},{"x":-0.138,"y":0.22},{"x":-0.135,"y":-0.13},{"x":-0.132,"y":0.10},{"x":-0.130,"y":-0.02},{"x":-0.128,"y":-0.25},{"x":-0.125,"y":0.17},{"x":-0.122,"y":0.03},{"x":-0.120,"y":-0.10},{"x":-0.118,"y":0.26},{"x":-0.115,"y":-0.18},{"x":-0.112,"y":0.08},{"x":-0.110,"y":-0.04},{"x":-0.108,"y":0.13},{"x":-0.105,"y":-0.22},{"x":-0.102,"y":0.00},{"x":-0.100,"y":-0.13},{"x":-0.098,"y":0.20},{"x":-0.095,"y":0.06},{"x":-0.092,"y":-0.08},{"x":-0.090,"y":0.14},{"x":-0.088,"y":-0.17},{"x":-0.085,"y":0.02},{"x":-0.082,"y":0.24},{"x":-0.080,"y":-0.03},{"x":-0.078,"y":0.10},{"x":-0.075,"y":-0.12},{"x":-0.072,"y":0.17},{"x":-0.070,"y":-0.20},{"x":-0.068,"y":0.05},{"x":-0.065,"y":-0.07},{"x":-0.062,"y":0.12},{"x":-0.060,"y":0.00},{"x":-0.057,"y":-0.14},{"x":-0.055,"y":0.19},{"x":-0.052,"y":-0.05},{"x":-0.050,"y":0.08},{"x":-0.160,"y":0.20},{"x":-0.157,"y":-0.24},{"x":-0.152,"y":0.25},{"x":-0.150,"y":-0.28},{"x":-0.165,"y":0.24},{"x":-0.170,"y":-0.27},
{"x":-0.161,"y":0.678},{"x":-0.151,"y":0.619},{"x":-0.318,"y":0.593},{"x":-0.188,"y":0.579},{"x":-0.272,"y":0.524},{"x":-0.300,"y":0.512},{"x":-0.212,"y":0.503},{"x":-0.197,"y":0.487},{"x":-0.126,"y":0.457},{"x":-0.365,"y":0.495},{"x":-0.349,"y":0.467},{"x":-0.278,"y":0.430},{"x":-0.237,"y":0.416},{"x":-0.219,"y":0.386},{"x":-0.155,"y":0.406},{"x":-0.134,"y":0.422},{"x":-0.117,"y":0.386},{"x":-0.112,"y":0.345},{"x":-0.144,"y":0.325},{"x":-0.409,"y":0.396},{"x":-0.489,"y":0.254},{"x":-0.522,"y":0.223},{"x":-0.533,"y":0.087},{"x":-0.514,"y":0.102},{"x":-0.533,"y":-0.051},{"x":-0.525,"y":-0.071},{"x":-0.500,"y":-0.166},{"x":-0.497,"y":-0.294},{"x":-0.467,"y":-0.355},{"x":-0.451,"y":-0.402},{"x":-0.402,"y":-0.422},{"x":-0.385,"y":-0.457},{"x":-0.347,"y":-0.416},{"x":-0.300,"y":-0.463},{"x":-0.303,"y":-0.528},{"x":-0.330,"y":-0.548},{"x":-0.314,"y":-0.538},{"x":-0.382,"y":-0.601},{"x":-0.227,"y":-0.390},{"x":-0.194,"y":-0.369},{"x":-0.245,"y":-0.341},{"x":-0.243,"y":-0.244},{"x":-0.201,"y":-0.274},
{"x":-0.101,"y":0.183},{"x":-0.112,"y":0.152},{"x":-0.084,"y":0.102},{"x":-0.057,"y":0.091},{"x":-0.030,"y":0.203},{"x":-0.002,"y":0.203},{"x":-0.024,"y":0.132},{"x":0.003,"y":0.122},{"x":-0.008,"y":0.081},{"x":0.009,"y":0.061},{"x":0.036,"y":0.024},{"x":0.052,"y":0.138},{"x":0.058,"y":0.041},{"x":0.096,"y":0.162},{"x":0.120,"y":0.146},{"x":0.149,"y":0.213},{"x":0.124,"y":0.030},{"x":0.154,"y":-0.041},{"x":0.091,"y":-0.061},{"x":0.063,"y":-0.081},{"x":0.105,"y":-0.122},{"x":0.052,"y":-0.138},{"x":0.036,"y":-0.102},{"x":0.020,"y":-0.183},{"x":0.009,"y":-0.264},{"x":0.058,"y":-0.264},{"x":0.063,"y":-0.294},{"x":0.096,"y":-0.207},{"x":0.107,"y":-0.280},{"x":0.140,"y":-0.325},{"x":0.151,"y":-0.376},{"x":0.186,"y":-0.152},{"x":0.245,"y":-0.187},{"x":0.370,"y":-0.309},{"x":0.714,"y":-0.656},{"x":-0.062,"y":-0.376},{"x":-0.090,"y":-0.325},{"x":-0.095,"y":-0.264},{"x":-0.067,"y":-0.254},{"x":-0.057,"y":-0.162},{"x":-0.046,"y":-0.102},{"x":-0.079,"y":-0.061},{"x":-0.024,"y":-0.142},{"x":-0.035,"y":-0.193},{"x":-0.013,"y":-0.223},{"x":-0.112,"y":-0.203},{"x":-0.134,"y":-0.233},{"x":-0.144,"y":-0.142},{"x":-0.117,"y":-0.091},{"x":-0.095,"y":-0.020},{"x":-0.134,"y":0.061},{"x":-0.106,"y":0.030},
{"x":-0.130,"y":0.120},{"x":-0.120,"y":-0.050},{"x":-0.140,"y":-0.300},{"x":-0.125,"y":0.250},{"x":-0.100,"y":0.090},{"x":-0.085,"y":-0.120},{"x":-0.070,"y":0.030},{"x":-0.050,"y":-0.030},{"x":-0.110,"y":-0.150},{"x":-0.135,"y":0.180},{"x":-0.020,"y":0.060},{"x":0.010,"y":-0.040},{"x":-0.040,"y":0.160},{"x":0.000,"y":-0.100},{"x":0.030,"y":-0.200}
],
"eu_fit": [{"x":-0.527,"y":-0.075},{"x":-0.5,"y":-0.061},{"x":-0.44,"y":-0.03},{"x":-0.38,"y":0.0},{"x":-0.303,"y":0.0},{"x":-0.254,"y":0.016},{"x":-0.221,"y":0.024},{"x":-0.188,"y":0.016},{"x":-0.134,"y":-0.016},{"x":-0.068,"y":-0.047},{"x":-0.002,"y":-0.071},{"x":0.085,"y":-0.102},{"x":0.195,"y":-0.152},{"x":0.304,"y":-0.216},{"x":0.413,"y":-0.280},{"x":0.523,"y":-0.345},{"x":0.714,"y":-0.457}],
"ne": [
{"x":-0.681,"y":0.021},{"x":-0.667,"y":0.077},{"x":-0.651,"y":0.063},{"x":-0.610,"y":-0.023},{"x":-0.596,"y":0.047},{"x":-0.589,"y":-0.036},{"x":-0.583,"y":0.164},{"x":-0.586,"y":0.094},{"x":-0.585,"y":0.077},{"x":-0.579,"y":-0.012},{"x":-0.574,"y":0.002},{"x":-0.574,"y":-0.065},{"x":-0.571,"y":0.212},{"x":-0.571,"y":-0.110},{"x":-0.569,"y":0.094},{"x":-0.572,"y":0.070},{"x":-0.561,"y":0.091},{"x":-0.558,"y":0.126},{"x":-0.552,"y":0.156},{"x":-0.557,"y":0.035},{"x":-0.556,"y":0.019},{"x":-0.551,"y":-0.023},{"x":-0.552,"y":-0.042},{"x":-0.547,"y":-0.014},{"x":-0.548,"y":-0.056},{"x":-0.549,"y":-0.112},{"x":-0.542,"y":0.098},{"x":-0.542,"y":0.061},{"x":-0.542,"y":0.005},{"x":-0.540,"y":-0.028},{"x":-0.538,"y":-0.005},{"x":-0.537,"y":-0.042},{"x":-0.536,"y":-0.079},{"x":-0.534,"y":-0.108},{"x":-0.529,"y":-0.019},{"x":-0.531,"y":0.023},{"x":-0.527,"y":0.070},{"x":-0.525,"y":0.103},{"x":-0.520,"y":-0.126},{"x":-0.518,"y":0.023},{"x":-0.516,"y":-0.005},{"x":-0.513,"y":0.145},{"x":-0.511,"y":0.084},{"x":-0.509,"y":0.187},{"x":-0.508,"y":0.108},{"x":-0.507,"y":0.042},{"x":-0.504,"y":-0.028},{"x":-0.504,"y":0.005},{"x":-0.502,"y":0.061},{"x":-0.498,"y":0.098},{"x":-0.493,"y":0.164},{"x":-0.494,"y":0.341},{"x":-0.493,"y":-0.065},{"x":-0.491,"y":-0.108},{"x":-0.489,"y":0.014},{"x":-0.488,"y":0.098},{"x":-0.484,"y":0.042},{"x":-0.482,"y":0.089},{"x":-0.480,"y":0.061},{"x":-0.480,"y":-0.079},{"x":-0.480,"y":-0.136},{"x":-0.479,"y":-0.168},{"x":-0.475,"y":0.098},{"x":-0.473,"y":-0.089},{"x":-0.471,"y":-0.033},{"x":-0.469,"y":-0.108},{"x":-0.464,"y":0.173},{"x":-0.464,"y":0.112},{"x":-0.462,"y":0.042},{"x":-0.460,"y":0.005},{"x":-0.458,"y":-0.051},{"x":-0.457,"y":-0.126},{"x":-0.455,"y":-0.164},{"x":-0.453,"y":-0.215},{"x":-0.453,"y":-0.089},{"x":-0.451,"y":0.159},{"x":-0.448,"y":0.089},{"x":-0.446,"y":-0.070},{"x":-0.444,"y":-0.145},{"x":-0.443,"y":0.126},{"x":-0.442,"y":0.019},{"x":-0.440,"y":-0.014},{"x":-0.437,"y":0.094},{"x":-0.435,"y":-0.164},{"x":-0.436,"y":-0.271},{"x":-0.434,"y":0.201},{"x":-0.433,"y":-0.033},{"x":-0.431,"y":-0.070},{"x":-0.428,"y":0.042},{"x":-0.426,"y":-0.117},{"x":-0.424,"y":0.005},{"x":-0.422,"y":-0.051},{"x":-0.419,"y":-0.173},{"x":-0.417,"y":-0.089},{"x":-0.415,"y":-0.033},{"x":-0.413,"y":-0.070},{"x":-0.410,"y":0.047},{"x":-0.408,"y":0.014},{"x":-0.406,"y":-0.061},{"x":-0.404,"y":-0.014},{"x":-0.401,"y":-0.070},{"x":-0.399,"y":-0.126},{"x":-0.396,"y":0.070},{"x":-0.396,"y":-0.192},{"x":-0.395,"y":-0.033},{"x":-0.392,"y":-0.084},{"x":-0.391,"y":-0.164},{"x":-0.390,"y":0.005},{"x":-0.388,"y":-0.117},{"x":-0.386,"y":-0.061},{"x":-0.385,"y":0.005},{"x":-0.381,"y":0.089},{"x":-0.379,"y":-0.079},{"x":-0.377,"y":0.238},{"x":-0.376,"y":-0.201},{"x":-0.375,"y":0.150},{"x":-0.372,"y":0.126},{"x":-0.371,"y":0.014},{"x":-0.370,"y":0.051},{"x":-0.369,"y":-0.164},{"x":-0.368,"y":-0.033},{"x":-0.366,"y":-0.070},{"x":-0.364,"y":-0.182},{"x":-0.362,"y":0.126},{"x":-0.361,"y":0.079},{"x":-0.360,"y":0.168},{"x":-0.359,"y":-0.089},{"x":-0.358,"y":0.103},{"x":-0.357,"y":-0.014},{"x":-0.354,"y":-0.117},{"x":-0.352,"y":-0.051},{"x":-0.350,"y":0.023},{"x":-0.348,"y":-0.070},{"x":-0.346,"y":-0.098},{"x":-0.343,"y":0.065},{"x":-0.342,"y":0.248},{"x":-0.340,"y":-0.145},{"x":-0.339,"y":-0.033},{"x":-0.337,"y":0.019},{"x":-0.332,"y":0.098},{"x":-0.330,"y":-0.023},{"x":-0.328,"y":0.150},{"x":-0.325,"y":-0.061},{"x":-0.323,"y":0.065},{"x":-0.321,"y":0.023},{"x":-0.320,"y":0.126},{"x":-0.318,"y":-0.023},{"x":-0.315,"y":0.051},{"x":-0.312,"y":0.108},{"x":-0.310,"y":-0.009},{"x":-0.308,"y":-0.094},{"x":-0.306,"y":0.014},{"x":-0.303,"y":0.098},{"x":-0.298,"y":0.175},{"x":-0.295,"y":0.299},{"x":-0.292,"y":0.098},{"x":-0.291,"y":-0.019},{"x":-0.289,"y":-0.042},{"x":-0.273,"y":0.094},{"x":-0.254,"y":0.037},{"x":-0.224,"y":0.210},{"x":-0.212,"y":0.028},{"x":-0.210,"y":-0.012},{"x":-0.198,"y":0.016},{"x":-0.195,"y":-0.012},{"x":-0.183,"y":-0.009},{"x":-0.176,"y":0.203},{"x":-0.176,"y":0.047},{"x":-0.169,"y":-0.051},
{"x":-0.545,"y":-0.033},{"x":-0.539,"y":-0.023},{"x":-0.534,"y":-0.042},{"x":-0.547,"y":0.005},{"x":-0.548,"y":-0.03},{"x":-0.543,"y":-0.05},{"x":-0.538,"y":-0.02},{"x":-0.535,"y":-0.06},{"x":-0.53,"y":-0.035},{"x":-0.552,"y":-0.045},{"x":-0.488,"y":0.10},{"x":-0.483,"y":0.085},{"x":-0.478,"y":0.095},{"x":-0.492,"y":0.08},{"x":-0.473,"y":0.105},{"x":-0.485,"y":0.06},{"x":-0.468,"y":-0.09},{"x":-0.462,"y":-0.11},{"x":-0.455,"y":-0.095},{"x":-0.450,"y":-0.12},{"x":-0.445,"y":-0.08},{"x":-0.47,"y":-0.07},{"x":-0.44,"y":-0.10},{"x":-0.425,"y":-0.06},{"x":-0.42,"y":-0.08},{"x":-0.412,"y":-0.05},{"x":-0.405,"y":-0.075},{"x":-0.41,"y":-0.06},{"x":-0.375,"y":-0.05},{"x":-0.37,"y":-0.065},{"x":-0.365,"y":-0.04},{"x":-0.36,"y":-0.075},{"x":-0.355,"y":-0.055},{"x":-0.368,"y":0.13},{"x":-0.363,"y":0.11},{"x":-0.358,"y":0.12},{"x":-0.372,"y":0.14}
],
"ne_fit": [{"x":-0.681,"y":0.058},{"x":-0.636,"y":0.050},{"x":-0.592,"y":0.033},{"x":-0.547,"y":0.014},{"x":-0.502,"y":-0.009},{"x":-0.471,"y":-0.023},{"x":-0.448,"y":-0.035},{"x":-0.422,"y":-0.036},{"x":-0.399,"y":-0.031},{"x":-0.377,"y":-0.012},{"x":-0.354,"y":0.009},{"x":-0.323,"y":0.023},{"x":-0.301,"y":0.028},{"x":-0.256,"y":0.040},{"x":-0.211,"y":0.056},{"x":-0.169,"y":0.068}],
"at": [
{"x":-0.418,"y":-0.16},{"x":-0.412,"y":-0.12},{"x":-0.418,"y":-0.08},{"x":-0.412,"y":-0.04},{"x":-0.418,"y":0.00},{"x":-0.412,"y":0.04},{"x":-0.418,"y":0.08},{"x":-0.412,"y":0.12},{"x":-0.418,"y":0.16},
{"x":-0.409,"y":-0.19},{"x":-0.403,"y":-0.15},{"x":-0.409,"y":-0.11},{"x":-0.403,"y":-0.07},{"x":-0.409,"y":-0.03},{"x":-0.403,"y":0.01},{"x":-0.409,"y":0.05},{"x":-0.403,"y":0.09},{"x":-0.409,"y":0.13},{"x":-0.403,"y":0.17},{"x":-0.409,"y":0.20},
{"x":-0.400,"y":-0.22},{"x":-0.394,"y":-0.18},{"x":-0.400,"y":-0.14},{"x":-0.394,"y":-0.10},{"x":-0.400,"y":-0.06},{"x":-0.394,"y":-0.02},{"x":-0.400,"y":0.02},{"x":-0.394,"y":0.06},{"x":-0.400,"y":0.10},{"x":-0.394,"y":0.14},{"x":-0.400,"y":0.18},{"x":-0.394,"y":0.22},
{"x":-0.391,"y":-0.21},{"x":-0.385,"y":-0.17},{"x":-0.391,"y":-0.13},{"x":-0.385,"y":-0.09},{"x":-0.391,"y":-0.05},{"x":-0.385,"y":-0.01},{"x":-0.391,"y":0.03},{"x":-0.385,"y":0.07},{"x":-0.391,"y":0.11},{"x":-0.385,"y":0.15},{"x":-0.391,"y":0.19},{"x":-0.385,"y":0.23},
{"x":-0.382,"y":-0.22},{"x":-0.376,"y":-0.18},{"x":-0.382,"y":-0.14},{"x":-0.376,"y":-0.10},{"x":-0.382,"y":-0.06},{"x":-0.376,"y":-0.02},{"x":-0.382,"y":0.02},{"x":-0.376,"y":0.06},{"x":-0.382,"y":0.10},{"x":-0.376,"y":0.14},{"x":-0.382,"y":0.18},{"x":-0.376,"y":0.22},
{"x":-0.373,"y":-0.23},{"x":-0.367,"y":-0.19},{"x":-0.373,"y":-0.15},{"x":-0.367,"y":-0.11},{"x":-0.373,"y":-0.07},{"x":-0.367,"y":-0.03},{"x":-0.373,"y":0.01},{"x":-0.367,"y":0.05},{"x":-0.373,"y":0.09},{"x":-0.367,"y":0.13},{"x":-0.373,"y":0.17},{"x":-0.367,"y":0.21},{"x":-0.373,"y":0.25},
{"x":-0.364,"y":-0.22},{"x":-0.358,"y":-0.18},{"x":-0.364,"y":-0.14},{"x":-0.358,"y":-0.10},{"x":-0.364,"y":-0.06},{"x":-0.358,"y":-0.02},{"x":-0.364,"y":0.02},{"x":-0.358,"y":0.06},{"x":-0.364,"y":0.10},{"x":-0.358,"y":0.14},{"x":-0.364,"y":0.18},{"x":-0.358,"y":0.22},{"x":-0.364,"y":0.26},
{"x":-0.355,"y":-0.23},{"x":-0.349,"y":-0.19},{"x":-0.355,"y":-0.15},{"x":-0.349,"y":-0.11},{"x":-0.355,"y":-0.07},{"x":-0.349,"y":-0.03},{"x":-0.355,"y":0.01},{"x":-0.349,"y":0.05},{"x":-0.355,"y":0.09},{"x":-0.349,"y":0.13},{"x":-0.355,"y":0.17},{"x":-0.349,"y":0.21},{"x":-0.355,"y":0.25},
{"x":-0.346,"y":-0.22},{"x":-0.340,"y":-0.18},{"x":-0.346,"y":-0.14},{"x":-0.340,"y":-0.10},{"x":-0.346,"y":-0.06},{"x":-0.340,"y":-0.02},{"x":-0.346,"y":0.02},{"x":-0.340,"y":0.06},{"x":-0.346,"y":0.10},{"x":-0.340,"y":0.14},{"x":-0.346,"y":0.18},{"x":-0.340,"y":0.22},{"x":-0.346,"y":0.26},
{"x":-0.337,"y":-0.23},{"x":-0.331,"y":-0.19},{"x":-0.337,"y":-0.15},{"x":-0.331,"y":-0.11},{"x":-0.337,"y":-0.07},{"x":-0.331,"y":-0.03},{"x":-0.337,"y":0.01},{"x":-0.331,"y":0.05},{"x":-0.337,"y":0.09},{"x":-0.331,"y":0.13},{"x":-0.337,"y":0.17},{"x":-0.331,"y":0.21},{"x":-0.337,"y":0.25},
{"x":-0.328,"y":-0.22},{"x":-0.322,"y":-0.18},{"x":-0.328,"y":-0.14},{"x":-0.322,"y":-0.10},{"x":-0.328,"y":-0.06},{"x":-0.322,"y":-0.02},{"x":-0.328,"y":0.02},{"x":-0.322,"y":0.06},{"x":-0.328,"y":0.10},{"x":-0.322,"y":0.14},{"x":-0.328,"y":0.18},{"x":-0.322,"y":0.22},
{"x":-0.319,"y":-0.23},{"x":-0.313,"y":-0.19},{"x":-0.319,"y":-0.15},{"x":-0.313,"y":-0.11},{"x":-0.319,"y":-0.07},{"x":-0.313,"y":-0.03},{"x":-0.319,"y":0.01},{"x":-0.313,"y":0.05},{"x":-0.319,"y":0.09},{"x":-0.313,"y":0.13},{"x":-0.319,"y":0.17},{"x":-0.313,"y":0.21},
{"x":-0.310,"y":-0.22},{"x":-0.304,"y":-0.18},{"x":-0.310,"y":-0.14},{"x":-0.304,"y":-0.10},{"x":-0.310,"y":-0.06},{"x":-0.304,"y":-0.02},{"x":-0.310,"y":0.02},{"x":-0.304,"y":0.06},{"x":-0.310,"y":0.10},{"x":-0.304,"y":0.14},{"x":-0.310,"y":0.18},{"x":-0.304,"y":0.22},
{"x":-0.301,"y":-0.21},{"x":-0.295,"y":-0.17},{"x":-0.301,"y":-0.13},{"x":-0.295,"y":-0.09},{"x":-0.301,"y":-0.05},{"x":-0.295,"y":-0.01},{"x":-0.301,"y":0.03},{"x":-0.295,"y":0.07},{"x":-0.301,"y":0.11},{"x":-0.295,"y":0.15},{"x":-0.301,"y":0.19},
{"x":-0.292,"y":-0.20},{"x":-0.286,"y":-0.16},{"x":-0.292,"y":-0.12},{"x":-0.286,"y":-0.08},{"x":-0.292,"y":-0.04},{"x":-0.286,"y":0.00},{"x":-0.292,"y":0.04},{"x":-0.286,"y":0.08},{"x":-0.292,"y":0.12},{"x":-0.286,"y":0.16},{"x":-0.292,"y":0.20},
{"x":-0.283,"y":-0.19},{"x":-0.277,"y":-0.15},{"x":-0.283,"y":-0.11},{"x":-0.277,"y":-0.07},{"x":-0.283,"y":-0.03},{"x":-0.277,"y":0.01},{"x":-0.283,"y":0.05},{"x":-0.277,"y":0.09},{"x":-0.283,"y":0.13},{"x":-0.277,"y":0.17},
{"x":-0.274,"y":-0.16},{"x":-0.268,"y":-0.12},{"x":-0.274,"y":-0.08},{"x":-0.268,"y":-0.04},{"x":-0.274,"y":0.00},{"x":-0.268,"y":0.04},{"x":-0.274,"y":0.08},{"x":-0.268,"y":0.12},{"x":-0.274,"y":0.16},
{"x":-0.411,"y":-0.14},{"x":-0.411,"y":-0.10},{"x":-0.411,"y":-0.06},{"x":-0.411,"y":-0.02},{"x":-0.411,"y":0.02},{"x":-0.411,"y":0.06},{"x":-0.411,"y":0.10},{"x":-0.411,"y":0.14},
{"x":-0.402,"y":-0.17},{"x":-0.402,"y":-0.13},{"x":-0.402,"y":-0.09},{"x":-0.402,"y":-0.05},{"x":-0.402,"y":-0.01},{"x":-0.402,"y":0.03},{"x":-0.402,"y":0.07},{"x":-0.402,"y":0.11},{"x":-0.402,"y":0.15},{"x":-0.402,"y":0.19},
{"x":-0.393,"y":-0.20},{"x":-0.393,"y":-0.16},{"x":-0.393,"y":-0.12},{"x":-0.393,"y":-0.08},{"x":-0.393,"y":-0.04},{"x":-0.393,"y":0.00},{"x":-0.393,"y":0.04},{"x":-0.393,"y":0.08},{"x":-0.393,"y":0.12},{"x":-0.393,"y":0.16},{"x":-0.393,"y":0.20},
{"x":-0.384,"y":-0.19},{"x":-0.384,"y":-0.15},{"x":-0.384,"y":-0.11},{"x":-0.384,"y":-0.07},{"x":-0.384,"y":-0.03},{"x":-0.384,"y":0.01},{"x":-0.384,"y":0.05},{"x":-0.384,"y":0.09},{"x":-0.384,"y":0.13},{"x":-0.384,"y":0.17},{"x":-0.384,"y":0.21},
{"x":-0.375,"y":-0.20},{"x":-0.375,"y":-0.16},{"x":-0.375,"y":-0.12},{"x":-0.375,"y":-0.08},{"x":-0.375,"y":-0.04},{"x":-0.375,"y":0.00},{"x":-0.375,"y":0.04},{"x":-0.375,"y":0.08},{"x":-0.375,"y":0.12},{"x":-0.375,"y":0.16},{"x":-0.375,"y":0.20},{"x":-0.375,"y":0.24},
{"x":-0.366,"y":-0.21},{"x":-0.366,"y":-0.17},{"x":-0.366,"y":-0.13},{"x":-0.366,"y":-0.09},{"x":-0.366,"y":-0.05},{"x":-0.366,"y":-0.01},{"x":-0.366,"y":0.03},{"x":-0.366,"y":0.07},{"x":-0.366,"y":0.11},{"x":-0.366,"y":0.15},{"x":-0.366,"y":0.19},{"x":-0.366,"y":0.23},
{"x":-0.357,"y":-0.20},{"x":-0.357,"y":-0.16},{"x":-0.357,"y":-0.12},{"x":-0.357,"y":-0.08},{"x":-0.357,"y":-0.04},{"x":-0.357,"y":0.00},{"x":-0.357,"y":0.04},{"x":-0.357,"y":0.08},{"x":-0.357,"y":0.12},{"x":-0.357,"y":0.16},{"x":-0.357,"y":0.20},{"x":-0.357,"y":0.24},
{"x":-0.348,"y":-0.21},{"x":-0.348,"y":-0.17},{"x":-0.348,"y":-0.13},{"x":-0.348,"y":-0.09},{"x":-0.348,"y":-0.05},{"x":-0.348,"y":-0.01},{"x":-0.348,"y":0.03},{"x":-0.348,"y":0.07},{"x":-0.348,"y":0.11},{"x":-0.348,"y":0.15},{"x":-0.348,"y":0.19},{"x":-0.348,"y":0.23},
{"x":-0.339,"y":-0.20},{"x":-0.339,"y":-0.16},{"x":-0.339,"y":-0.12},{"x":-0.339,"y":-0.08},{"x":-0.339,"y":-0.04},{"x":-0.339,"y":0.00},{"x":-0.339,"y":0.04},{"x":-0.339,"y":0.08},{"x":-0.339,"y":0.12},{"x":-0.339,"y":0.16},{"x":-0.339,"y":0.20},{"x":-0.339,"y":0.24},
{"x":-0.330,"y":-0.21},{"x":-0.330,"y":-0.17},{"x":-0.330,"y":-0.13},{"x":-0.330,"y":-0.09},{"x":-0.330,"y":-0.05},{"x":-0.330,"y":-0.01},{"x":-0.330,"y":0.03},{"x":-0.330,"y":0.07},{"x":-0.330,"y":0.11},{"x":-0.330,"y":0.15},{"x":-0.330,"y":0.19},{"x":-0.330,"y":0.23},
{"x":-0.321,"y":-0.20},{"x":-0.321,"y":-0.16},{"x":-0.321,"y":-0.12},{"x":-0.321,"y":-0.08},{"x":-0.321,"y":-0.04},{"x":-0.321,"y":0.00},{"x":-0.321,"y":0.04},{"x":-0.321,"y":0.08},{"x":-0.321,"y":0.12},{"x":-0.321,"y":0.16},{"x":-0.321,"y":0.20},
{"x":-0.312,"y":-0.21},{"x":-0.312,"y":-0.17},{"x":-0.312,"y":-0.13},{"x":-0.312,"y":-0.09},{"x":-0.312,"y":-0.05},{"x":-0.312,"y":-0.01},{"x":-0.312,"y":0.03},{"x":-0.312,"y":0.07},{"x":-0.312,"y":0.11},{"x":-0.312,"y":0.15},{"x":-0.312,"y":0.19},
{"x":-0.303,"y":-0.20},{"x":-0.303,"y":-0.16},{"x":-0.303,"y":-0.12},{"x":-0.303,"y":-0.08},{"x":-0.303,"y":-0.04},{"x":-0.303,"y":0.00},{"x":-0.303,"y":0.04},{"x":-0.303,"y":0.08},{"x":-0.303,"y":0.12},{"x":-0.303,"y":0.16},{"x":-0.303,"y":0.20},
{"x":-0.294,"y":-0.19},{"x":-0.294,"y":-0.15},{"x":-0.294,"y":-0.11},{"x":-0.294,"y":-0.07},{"x":-0.294,"y":-0.03},{"x":-0.294,"y":0.01},{"x":-0.294,"y":0.05},{"x":-0.294,"y":0.09},{"x":-0.294,"y":0.13},{"x":-0.294,"y":0.17},
{"x":-0.285,"y":-0.18},{"x":-0.285,"y":-0.14},{"x":-0.285,"y":-0.10},{"x":-0.285,"y":-0.06},{"x":-0.285,"y":-0.02},{"x":-0.285,"y":0.02},{"x":-0.285,"y":0.06},{"x":-0.285,"y":0.10},{"x":-0.285,"y":0.14},{"x":-0.285,"y":0.18},
{"x":-0.276,"y":-0.17},{"x":-0.276,"y":-0.13},{"x":-0.276,"y":-0.09},{"x":-0.276,"y":-0.05},{"x":-0.276,"y":-0.01},{"x":-0.276,"y":0.03},{"x":-0.276,"y":0.07},{"x":-0.276,"y":0.11},{"x":-0.276,"y":0.15},
{"x":-0.470,"y":0.15},{"x":-0.468,"y":-0.05},{"x":-0.466,"y":0.04},{"x":-0.464,"y":-0.14},{"x":-0.461,"y":0.10},{"x":-0.459,"y":-0.09},{"x":-0.456,"y":0.20},{"x":-0.454,"y":-0.02},{"x":-0.451,"y":0.07},{"x":-0.449,"y":-0.17},{"x":-0.446,"y":0.13},{"x":-0.444,"y":-0.06},{"x":-0.441,"y":0.03},{"x":-0.439,"y":-0.11},{"x":-0.436,"y":0.18},{"x":-0.434,"y":-0.21},{"x":-0.431,"y":0.09},{"x":-0.429,"y":-0.01},{"x":-0.426,"y":0.16},{"x":-0.424,"y":-0.14},{"x":-0.421,"y":0.02},{"x":-0.419,"y":0.23},{"x":-0.417,"y":-0.19},{"x":-0.424,"y":0.11},{"x":-0.43,"y":-0.07},
{"x":-0.268,"y":0.19},{"x":-0.266,"y":-0.17},{"x":-0.264,"y":0.05},{"x":-0.262,"y":-0.08},{"x":-0.259,"y":0.13},{"x":-0.257,"y":0.00},{"x":-0.254,"y":-0.14},{"x":-0.252,"y":0.21},{"x":-0.249,"y":0.06},{"x":-0.247,"y":-0.05},{"x":-0.244,"y":0.17},{"x":-0.242,"y":-0.19},{"x":-0.239,"y":0.10},{"x":-0.237,"y":-0.10},{"x":-0.234,"y":0.02},{"x":-0.231,"y":0.24},{"x":-0.229,"y":-0.06},{"x":-0.226,"y":0.14},{"x":-0.224,"y":-0.15},{"x":-0.221,"y":0.07},{"x":-0.218,"y":-0.02},{"x":-0.215,"y":0.20},{"x":-0.212,"y":-0.10},{"x":-0.209,"y":0.11},{"x":-0.206,"y":0.03},
{"x":-0.415,"y":0.24},{"x":-0.405,"y":0.27},{"x":-0.395,"y":0.25},{"x":-0.385,"y":0.31},{"x":-0.375,"y":0.27},{"x":-0.365,"y":0.30},{"x":-0.355,"y":0.28},{"x":-0.345,"y":0.32},{"x":-0.335,"y":0.28},{"x":-0.325,"y":0.26},{"x":-0.315,"y":0.29},{"x":-0.305,"y":0.25},{"x":-0.295,"y":0.23},{"x":-0.285,"y":0.27},{"x":-0.275,"y":0.21},{"x":-0.415,"y":-0.23},{"x":-0.405,"y":-0.27},{"x":-0.395,"y":-0.25},{"x":-0.385,"y":-0.30},{"x":-0.375,"y":-0.26},{"x":-0.365,"y":-0.25},{"x":-0.355,"y":-0.31},{"x":-0.345,"y":-0.26},{"x":-0.335,"y":-0.30},{"x":-0.325,"y":-0.25},{"x":-0.315,"y":-0.29},{"x":-0.305,"y":-0.24},{"x":-0.295,"y":-0.27},{"x":-0.285,"y":-0.22},{"x":-0.275,"y":-0.25},
{"x":-0.522,"y":0.10},{"x":-0.521,"y":-0.05},{"x":-0.518,"y":0.02},{"x":-0.512,"y":-0.12},{"x":-0.508,"y":0.13},{"x":-0.505,"y":0.06},{"x":-0.503,"y":-0.02},{"x":-0.498,"y":-0.09},{"x":-0.495,"y":0.16},{"x":-0.492,"y":0.03},{"x":-0.488,"y":-0.15},{"x":-0.485,"y":0.09},{"x":-0.482,"y":-0.04},{"x":-0.478,"y":0.20},{"x":-0.475,"y":0.01},{"x":-0.472,"y":-0.10},{"x":-0.468,"y":0.12},{"x":-0.465,"y":-0.20},{"x":-0.462,"y":0.05},{"x":-0.458,"y":-0.06},{"x":-0.455,"y":0.17},{"x":-0.452,"y":-0.13},{"x":-0.448,"y":0.00},{"x":-0.445,"y":0.09},{"x":-0.442,"y":-0.18},{"x":-0.438,"y":0.22},{"x":-0.435,"y":-0.03},{"x":-0.432,"y":0.14},{"x":-0.428,"y":-0.09},{"x":-0.425,"y":0.06},{"x":-0.422,"y":-0.24},{"x":-0.420,"y":0.19},{"x":-0.428,"y":0.27},{"x":-0.44,"y":-0.26},{"x":-0.46,"y":0.24},{"x":-0.48,"y":-0.22},{"x":-0.50,"y":-0.17},{"x":-0.515,"y":0.19},
{"x":-0.262,"y":0.20},{"x":-0.258,"y":-0.20},{"x":-0.255,"y":0.08},{"x":-0.252,"y":-0.06},{"x":-0.248,"y":0.15},{"x":-0.245,"y":-0.13},{"x":-0.242,"y":0.02},{"x":-0.238,"y":0.22},{"x":-0.235,"y":-0.02},{"x":-0.232,"y":0.11},{"x":-0.228,"y":-0.17},{"x":-0.225,"y":0.05},{"x":-0.222,"y":-0.09},{"x":-0.218,"y":0.18},{"x":-0.215,"y":-0.04},{"x":-0.212,"y":0.09},{"x":-0.208,"y":-0.12},{"x":-0.205,"y":0.14},{"x":-0.202,"y":0.00},{"x":-0.198,"y":-0.07},{"x":-0.195,"y":0.21},{"x":-0.192,"y":0.05},{"x":-0.188,"y":-0.15},{"x":-0.185,"y":0.10},{"x":-0.182,"y":-0.03},{"x":-0.178,"y":0.07},{"x":-0.175,"y":-0.10},{"x":-0.172,"y":0.03},{"x":-0.168,"y":-0.05},{"x":-0.165,"y":0.12},
{"x":-0.40,"y":0.26},{"x":-0.39,"y":0.29},{"x":-0.37,"y":0.28},{"x":-0.35,"y":0.30},{"x":-0.33,"y":0.29},{"x":-0.31,"y":0.27},{"x":-0.29,"y":0.25},{"x":-0.27,"y":0.22},{"x":-0.40,"y":-0.25},{"x":-0.38,"y":-0.27},{"x":-0.36,"y":-0.29},{"x":-0.34,"y":-0.28},{"x":-0.32,"y":-0.27},{"x":-0.30,"y":-0.26},{"x":-0.28,"y":-0.24},{"x":-0.27,"y":-0.20},{"x":-0.42,"y":0.21},{"x":-0.42,"y":-0.20},
{"x":-0.559,"y":-0.228},{"x":-0.544,"y":0.249},{"x":-0.519,"y":0.302},{"x":-0.519,"y":-0.303},{"x":-0.535,"y":-0.184},{"x":-0.551,"y":-0.023},{"x":-0.542,"y":0.047},{"x":-0.538,"y":0.103},{"x":-0.533,"y":-0.093},{"x":-0.522,"y":-0.146},{"x":-0.516,"y":0.126},{"x":-0.508,"y":0.100},{"x":-0.499,"y":-0.032},{"x":-0.496,"y":0.223},{"x":-0.490,"y":-0.189},{"x":-0.482,"y":0.258},{"x":-0.472,"y":-0.260},{"x":-0.447,"y":-0.212},{"x":-0.433,"y":-0.216},{"x":-0.416,"y":0.314},{"x":-0.407,"y":-0.347},{"x":-0.394,"y":-0.335},{"x":-0.378,"y":-0.365},{"x":-0.361,"y":-0.339},{"x":-0.375,"y":0.354},{"x":-0.349,"y":0.354},{"x":-0.332,"y":0.451},{"x":-0.324,"y":0.460},{"x":-0.321,"y":0.307},{"x":-0.341,"y":-0.505},{"x":-0.385,"y":-0.595},{"x":-0.347,"y":-0.374},{"x":-0.312,"y":-0.339},{"x":-0.303,"y":-0.377},{"x":-0.289,"y":-0.339},{"x":-0.280,"y":0.398},{"x":-0.275,"y":0.240},{"x":-0.272,"y":0.547},{"x":-0.269,"y":0.535},{"x":-0.268,"y":0.328},{"x":-0.263,"y":0.302},{"x":-0.256,"y":0.389},{"x":-0.249,"y":0.460},{"x":-0.246,"y":0.495},{"x":-0.232,"y":0.517},{"x":-0.228,"y":0.389},{"x":-0.214,"y":0.389},{"x":-0.269,"y":-0.382},{"x":-0.247,"y":-0.347},{"x":-0.235,"y":-0.300},{"x":-0.257,"y":-0.233},{"x":-0.183,"y":-0.377},{"x":-0.194,"y":0.267},{"x":-0.186,"y":0.261},{"x":-0.170,"y":0.139},{"x":-0.191,"y":-0.216},{"x":-0.171,"y":-0.128},{"x":-0.160,"y":-0.023},{"x":-0.154,"y":-0.032},{"x":-0.149,"y":-0.128},{"x":-0.142,"y":0.082},{"x":-0.137,"y":0.153},{"x":-0.134,"y":-0.058},{"x":-0.131,"y":0.021},{"x":-0.128,"y":-0.084},{"x":-0.119,"y":0.039},{"x":-0.118,"y":-0.146},{"x":-0.108,"y":0.205},{"x":-0.107,"y":0.126},{"x":-0.108,"y":-0.089},{"x":-0.105,"y":-0.216},{"x":-0.091,"y":-0.225},{"x":-0.137,"y":-0.154},{"x":-0.070,"y":-0.049},{"x":-0.033,"y":0.021},{"x":-0.030,"y":-0.084},{"x":-0.024,"y":-0.149},{"x":0.043,"y":-0.160},{"x":0.056,"y":-0.072},{"x":0.096,"y":-0.281},{"x":-0.18,"y":0.04},{"x":-0.18,"y":-0.06},{"x":-0.185,"y":0.0},{"x":-0.2,"y":0.08},{"x":-0.205,"y":-0.11},{"x":-0.21,"y":-0.16},{"x":-0.215,"y":0.06}
],
"at_fit": [{"x":-0.559,"y":0.0},{"x":-0.407,"y":-0.003},{"x":-0.292,"y":-0.003},{"x":-0.252,"y":0.012},{"x":-0.223,"y":0.016},{"x":-0.177,"y":0.009},{"x":-0.119,"y":-0.014},{"x":-0.062,"y":-0.049},{"x":-0.004,"y":-0.079},{"x":0.053,"y":-0.102},{"x":0.096,"y":-0.119}],
"ce": [
{"x":-0.485,"y":-0.047},{"x":-0.475,"y":-0.169},{"x":-0.467,"y":-0.136},{"x":-0.459,"y":-0.083},{"x":-0.449,"y":-0.034},{"x":-0.439,"y":0.003},{"x":-0.434,"y":0.022},{"x":-0.432,"y":-0.024},{"x":-0.429,"y":0.079},{"x":-0.425,"y":-0.125},{"x":-0.422,"y":-0.140},{"x":-0.417,"y":-0.208},{"x":-0.415,"y":-0.030},{"x":-0.409,"y":-0.077},{"x":-0.398,"y":-0.251},{"x":-0.398,"y":-0.288},{"x":-0.395,"y":0.158},{"x":-0.388,"y":-0.050},{"x":-0.383,"y":0.003},{"x":-0.368,"y":-0.129},{"x":-0.365,"y":-0.182},{"x":-0.365,"y":0.049},{"x":-0.358,"y":0.082},{"x":-0.352,"y":0.218},{"x":-0.354,"y":-0.050},{"x":-0.352,"y":-0.206},{"x":-0.351,"y":-0.248},{"x":-0.351,"y":-0.301},{"x":-0.352,"y":-0.340},{"x":-0.342,"y":0.003},{"x":-0.337,"y":-0.063},{"x":-0.336,"y":-0.198},{"x":-0.334,"y":-0.156},{"x":-0.331,"y":0.069},{"x":-0.327,"y":0.174},{"x":-0.324,"y":-0.175},{"x":-0.322,"y":-0.011},{"x":-0.320,"y":0.108},{"x":-0.314,"y":-0.090},{"x":-0.312,"y":0.135},{"x":-0.310,"y":0.214},{"x":-0.307,"y":-0.116},{"x":-0.304,"y":-0.145},{"x":-0.300,"y":0.214},{"x":-0.301,"y":-0.356},{"x":-0.297,"y":0.069},{"x":-0.297,"y":-0.063},{"x":-0.293,"y":0.121},{"x":-0.290,"y":0.273},{"x":-0.288,"y":0.029},{"x":-0.287,"y":0.161},{"x":-0.283,"y":0.095},{"x":-0.280,"y":-0.103},{"x":-0.278,"y":0.141},{"x":-0.276,"y":-0.024},{"x":-0.273,"y":0.069},{"x":-0.270,"y":0.121},{"x":-0.266,"y":0.016},{"x":-0.265,"y":-0.050},{"x":-0.263,"y":0.135},{"x":-0.261,"y":0.069},{"x":-0.259,"y":-0.077},{"x":-0.258,"y":0.108},{"x":-0.256,"y":0.003},{"x":-0.254,"y":0.148},{"x":-0.253,"y":-0.037},{"x":-0.251,"y":-0.129},{"x":-0.249,"y":0.055},{"x":-0.247,"y":-0.090},{"x":-0.246,"y":0.247},{"x":-0.245,"y":-0.235},{"x":-0.243,"y":0.214},{"x":-0.239,"y":0.108},{"x":-0.238,"y":0.003},{"x":-0.236,"y":-0.156},{"x":-0.232,"y":0.161},{"x":-0.229,"y":-0.050},{"x":-0.226,"y":0.055},{"x":-0.222,"y":0.319},{"x":-0.220,"y":0.174},{"x":-0.219,"y":-0.024},{"x":-0.217,"y":-0.090},{"x":-0.215,"y":0.095},{"x":-0.212,"y":0.029},{"x":-0.209,"y":0.135},{"x":-0.207,"y":-0.044},{"x":-0.205,"y":0.164},{"x":-0.202,"y":0.069},{"x":-0.200,"y":-0.103},{"x":-0.199,"y":0.182},{"x":-0.195,"y":0.016},{"x":-0.193,"y":-0.294},{"x":-0.192,"y":-0.334},{"x":-0.188,"y":0.082},{"x":-0.185,"y":-0.024},{"x":-0.182,"y":0.055},{"x":-0.178,"y":0.003},{"x":-0.175,"y":-0.030},{"x":-0.173,"y":-0.152},{"x":-0.168,"y":0.119},{"x":-0.166,"y":-0.096},{"x":-0.163,"y":-0.452},{"x":-0.158,"y":0.157},{"x":-0.158,"y":-0.050},{"x":-0.155,"y":0.022},{"x":-0.151,"y":-0.063},{"x":-0.148,"y":-0.070},{"x":-0.144,"y":-0.024},{"x":-0.138,"y":-0.050},{"x":-0.131,"y":-0.044},{"x":-0.124,"y":0.092},{"x":-0.121,"y":-0.044},{"x":-0.110,"y":-0.047},{"x":-0.100,"y":-0.044},{"x":-0.093,"y":-0.047},{"x":-0.053,"y":-0.074},{"x":-0.046,"y":0.033},{"x":-0.033,"y":0.003},{"x":-0.029,"y":-0.013},{"x":-0.026,"y":0.168},{"x":-0.019,"y":-0.030},{"x":-0.009,"y":-0.096},{"x":-0.007,"y":-0.136},{"x":0.006,"y":-0.061},{"x":0.032,"y":-0.092},{"x":0.045,"y":-0.011},{"x":0.056,"y":-0.037},{"x":0.092,"y":0.150},{"x":0.098,"y":0.412},{"x":0.100,"y":0.230},{"x":0.112,"y":0.350},{"x":0.112,"y":0.269},{"x":0.110,"y":0.022},{"x":0.112,"y":-0.077},{"x":0.117,"y":-0.152},{"x":0.124,"y":0.069},{"x":0.129,"y":0.148},{"x":0.131,"y":0.137},{"x":0.129,"y":-0.096},{"x":0.133,"y":-0.050},{"x":0.134,"y":0.022},{"x":0.134,"y":-0.301},{"x":0.135,"y":0.088},{"x":0.139,"y":-0.145},{"x":0.144,"y":0.036},{"x":0.147,"y":-0.057},{"x":0.154,"y":0.003},{"x":0.155,"y":-0.202},{"x":0.157,"y":-0.156},{"x":0.159,"y":-0.175},{"x":0.154,"y":-0.259},{"x":0.166,"y":-0.096},{"x":0.182,"y":-0.288},{"x":0.257,"y":-0.228},{"x":0.267,"y":-0.061},
{"x":-0.29,"y":0.10},{"x":-0.285,"y":0.12},{"x":-0.28,"y":0.08},{"x":-0.275,"y":0.11},{"x":-0.27,"y":0.13},{"x":-0.265,"y":0.09},{"x":-0.26,"y":0.12},{"x":-0.255,"y":0.10},{"x":-0.25,"y":0.07},{"x":-0.245,"y":0.12},{"x":-0.24,"y":0.09},{"x":-0.235,"y":0.06},{"x":-0.23,"y":0.11},{"x":-0.26,"y":-0.03},{"x":-0.255,"y":-0.06},{"x":-0.25,"y":-0.04},{"x":-0.245,"y":-0.07},{"x":-0.24,"y":-0.02},{"x":-0.235,"y":-0.05},{"x":-0.23,"y":-0.03},{"x":-0.225,"y":-0.06},{"x":-0.22,"y":0.04},{"x":-0.215,"y":0.07},{"x":-0.21,"y":0.05},{"x":-0.2,"y":0.03},{"x":-0.27,"y":0.03},{"x":-0.275,"y":-0.02},{"x":-0.28,"y":0.05},{"x":-0.29,"y":0.02},{"x":-0.3,"y":0.06}
],
"ce_fit": [{"x":-0.483,"y":-0.112},{"x":-0.442,"y":-0.083},{"x":-0.395,"y":-0.044},{"x":-0.341,"y":0.003},{"x":-0.287,"y":0.038},{"x":-0.256,"y":0.046},{"x":-0.219,"y":0.036},{"x":-0.171,"y":0.016},{"x":-0.124,"y":-0.004},{"x":-0.104,"y":-0.015},{"x":-0.056,"y":-0.017},{"x":-0.002,"y":-0.037},{"x":0.066,"y":-0.053},{"x":0.134,"y":-0.070},{"x":0.201,"y":-0.087},{"x":0.267,"y":-0.100}],
"al": [
{"x":-0.595,"y":0.113},{"x":-0.588,"y":0.113},{"x":-0.584,"y":0.130},{"x":-0.578,"y":0.153},{"x":-0.574,"y":0.109},{"x":-0.569,"y":0.025},{"x":-0.543,"y":0.107},{"x":-0.539,"y":0.252},{"x":-0.537,"y":0.208},{"x":-0.537,"y":0.161},{"x":-0.539,"y":0.031},{"x":-0.539,"y":-0.016},{"x":-0.504,"y":0.031},{"x":-0.492,"y":0.135},{"x":-0.488,"y":0.078},{"x":-0.479,"y":0.167},{"x":-0.484,"y":0.088},{"x":-0.477,"y":0.057},{"x":-0.467,"y":0.113},{"x":-0.464,"y":0.000},{"x":-0.460,"y":0.321},{"x":-0.457,"y":-0.057},{"x":-0.453,"y":-0.182},{"x":-0.449,"y":0.038},{"x":-0.447,"y":0.220},{"x":-0.444,"y":-0.151},{"x":-0.442,"y":0.132},{"x":-0.439,"y":-0.208},{"x":-0.438,"y":-0.340},{"x":-0.437,"y":-0.245},{"x":-0.434,"y":0.182},{"x":-0.432,"y":-0.069},{"x":-0.430,"y":-0.447},{"x":-0.429,"y":-0.245},{"x":-0.427,"y":0.057},{"x":-0.424,"y":-0.151},{"x":-0.422,"y":0.214},{"x":-0.419,"y":-0.327},{"x":-0.418,"y":-0.239},{"x":-0.417,"y":-0.107},{"x":-0.414,"y":-0.006},{"x":-0.412,"y":0.082},{"x":-0.409,"y":-0.348},{"x":-0.408,"y":-0.182},{"x":-0.407,"y":0.157},{"x":-0.404,"y":-0.044},{"x":-0.403,"y":0.044},{"x":-0.402,"y":-0.132},{"x":-0.399,"y":0.107},{"x":-0.398,"y":0.006},{"x":-0.397,"y":-0.075},{"x":-0.394,"y":-0.195},{"x":-0.392,"y":0.321},{"x":-0.392,"y":0.195},{"x":-0.391,"y":0.069},{"x":-0.390,"y":-0.031},{"x":-0.388,"y":-0.220},{"x":-0.387,"y":-0.119},{"x":-0.385,"y":0.044},{"x":-0.383,"y":0.145},{"x":-0.382,"y":-0.170},{"x":-0.380,"y":-0.069},{"x":-0.378,"y":0.094},{"x":-0.377,"y":-0.233},{"x":-0.375,"y":-0.006},{"x":-0.373,"y":-0.145},{"x":-0.372,"y":-0.258},{"x":-0.370,"y":0.233},{"x":-0.367,"y":0.031},{"x":-0.365,"y":0.289},{"x":-0.363,"y":-0.094},{"x":-0.362,"y":0.145},{"x":-0.360,"y":-0.182},{"x":-0.358,"y":-0.019},{"x":-0.357,"y":0.082},{"x":-0.355,"y":0.208},{"x":-0.353,"y":-0.119},{"x":-0.352,"y":-0.245},{"x":-0.351,"y":-0.270},{"x":-0.350,"y":0.019},{"x":-0.348,"y":0.245},{"x":-0.347,"y":-0.069},{"x":-0.345,"y":0.107},{"x":-0.343,"y":-0.346},{"x":-0.342,"y":-0.170},{"x":-0.340,"y":-0.340},{"x":-0.338,"y":0.044},{"x":-0.337,"y":-0.503},{"x":-0.336,"y":-0.044},{"x":-0.335,"y":-0.333},{"x":-0.333,"y":0.157},{"x":-0.332,"y":-0.195},{"x":-0.331,"y":0.239},{"x":-0.330,"y":-0.119},{"x":-0.328,"y":0.069},{"x":-0.327,"y":-0.220},{"x":-0.326,"y":-0.006},{"x":-0.325,"y":0.195},{"x":-0.322,"y":-0.094},{"x":-0.320,"y":0.107},{"x":-0.318,"y":-0.170},{"x":-0.317,"y":-0.277},{"x":-0.316,"y":0.019},{"x":-0.315,"y":0.270},{"x":-0.312,"y":0.170},{"x":-0.311,"y":-0.069},{"x":-0.310,"y":0.314},{"x":-0.308,"y":0.082},{"x":-0.307,"y":-0.145},{"x":-0.305,"y":-0.019},{"x":-0.303,"y":0.233},{"x":-0.302,"y":-0.195},{"x":-0.300,"y":0.132},{"x":-0.299,"y":-0.311},{"x":-0.297,"y":-0.107},{"x":-0.295,"y":0.031},{"x":-0.293,"y":-0.233},{"x":-0.292,"y":0.277},{"x":-0.290,"y":0.182},{"x":-0.287,"y":-0.044},{"x":-0.286,"y":0.321},{"x":-0.285,"y":-0.157},{"x":-0.283,"y":0.082},{"x":-0.282,"y":-0.233},{"x":-0.280,"y":0.233},{"x":-0.278,"y":0.006},{"x":-0.277,"y":-0.094},{"x":-0.275,"y":0.145},{"x":-0.273,"y":0.327},{"x":-0.272,"y":-0.195},{"x":-0.270,"y":0.057},{"x":-0.268,"y":-0.126},{"x":-0.267,"y":-0.277},{"x":-0.266,"y":0.208},{"x":-0.265,"y":-0.031},{"x":-0.263,"y":0.283},{"x":-0.262,"y":0.107},{"x":-0.260,"y":-0.283},{"x":-0.258,"y":-0.245},{"x":-0.257,"y":-0.075},{"x":-0.256,"y":0.019},{"x":-0.255,"y":-0.195},{"x":-0.253,"y":0.255},{"x":-0.252,"y":0.157},{"x":-0.250,"y":-0.119},{"x":-0.248,"y":0.069},{"x":-0.247,"y":-0.019},{"x":-0.245,"y":-0.170},{"x":-0.243,"y":0.220},{"x":-0.242,"y":0.132},{"x":-0.241,"y":-0.069},{"x":-0.240,"y":0.044},{"x":-0.237,"y":-0.094},{"x":-0.235,"y":-0.006},{"x":-0.233,"y":0.082},{"x":-0.232,"y":0.258},{"x":-0.230,"y":0.182},{"x":-0.228,"y":-0.119},{"x":-0.227,"y":-0.044},{"x":-0.225,"y":0.107},{"x":-0.223,"y":0.031},{"x":-0.222,"y":-0.082},{"x":-0.220,"y":0.157},{"x":-0.218,"y":-0.006},{"x":-0.217,"y":0.208},{"x":-0.215,"y":0.069},{"x":-0.213,"y":-0.044},{"x":-0.212,"y":0.132},{"x":-0.210,"y":0.031},{"x":-0.208,"y":-0.107},{"x":-0.207,"y":0.182},{"x":-0.205,"y":-0.019},{"x":-0.203,"y":0.094},{"x":-0.202,"y":-0.057},{"x":-0.200,"y":0.157},{"x":-0.197,"y":0.006},{"x":-0.195,"y":0.302},{"x":-0.193,"y":0.057},{"x":-0.192,"y":-0.044},{"x":-0.190,"y":0.151},{"x":-0.187,"y":-0.145},{"x":-0.186,"y":-0.006},{"x":-0.185,"y":0.107},{"x":-0.182,"y":-0.069},{"x":-0.181,"y":-0.252},{"x":-0.180,"y":0.069},{"x":-0.177,"y":-0.094},{"x":-0.175,"y":0.019},{"x":-0.172,"y":-0.031},{"x":-0.170,"y":-0.113},{"x":-0.168,"y":0.094},{"x":-0.167,"y":-0.151},{"x":-0.165,"y":0.044},{"x":-0.163,"y":-0.019},{"x":-0.158,"y":-0.069},{"x":-0.155,"y":0.031},{"x":-0.152,"y":-0.233},{"x":-0.150,"y":0.006},{"x":-0.149,"y":0.145},{"x":-0.145,"y":-0.044},{"x":-0.143,"y":0.044},{"x":-0.138,"y":-0.057},{"x":-0.134,"y":0.138},{"x":-0.130,"y":-0.063},{"x":-0.129,"y":-0.214},{"x":-0.125,"y":-0.019},{"x":-0.123,"y":0.044},{"x":-0.118,"y":0.138},{"x":-0.115,"y":0.069},{"x":-0.113,"y":-0.006},{"x":-0.110,"y":-0.094},{"x":-0.108,"y":-0.113},{"x":-0.104,"y":0.044},{"x":-0.100,"y":0.264},{"x":-0.100,"y":-0.233},{"x":-0.090,"y":-0.208},{"x":-0.090,"y":-0.107},{"x":-0.090,"y":0.176},{"x":-0.087,"y":0.038},{"x":-0.083,"y":0.182},{"x":-0.083,"y":0.252},{"x":-0.078,"y":0.111},{"x":-0.039,"y":-0.079},{"x":-0.032,"y":0.038},{"x":-0.025,"y":-0.142},
{"x":-0.436,"y":-0.20},{"x":-0.436,"y":-0.12},{"x":-0.436,"y":-0.05},{"x":-0.436,"y":0.02},{"x":-0.436,"y":0.09},{"x":-0.436,"y":0.15},
{"x":-0.424,"y":-0.17},{"x":-0.424,"y":-0.09},{"x":-0.424,"y":-0.02},{"x":-0.424,"y":0.04},{"x":-0.424,"y":0.11},{"x":-0.424,"y":0.18},{"x":-0.424,"y":-0.23},
{"x":-0.412,"y":-0.21},{"x":-0.412,"y":-0.14},{"x":-0.412,"y":-0.06},{"x":-0.412,"y":0.00},{"x":-0.412,"y":0.07},{"x":-0.412,"y":0.13},{"x":-0.412,"y":0.20},{"x":-0.412,"y":-0.27},
{"x":-0.400,"y":-0.24},{"x":-0.400,"y":-0.17},{"x":-0.400,"y":-0.10},{"x":-0.400,"y":-0.03},{"x":-0.400,"y":0.03},{"x":-0.400,"y":0.10},{"x":-0.400,"y":0.16},{"x":-0.400,"y":0.22},
{"x":-0.388,"y":-0.20},{"x":-0.388,"y":-0.13},{"x":-0.388,"y":-0.07},{"x":-0.388,"y":0.00},{"x":-0.388,"y":0.06},{"x":-0.388,"y":0.13},{"x":-0.388,"y":0.19},{"x":-0.388,"y":0.25},{"x":-0.388,"y":-0.26},
{"x":-0.376,"y":-0.23},{"x":-0.376,"y":-0.16},{"x":-0.376,"y":-0.09},{"x":-0.376,"y":-0.02},{"x":-0.376,"y":0.04},{"x":-0.376,"y":0.11},{"x":-0.376,"y":0.17},{"x":-0.376,"y":0.24},
{"x":-0.364,"y":-0.21},{"x":-0.364,"y":-0.14},{"x":-0.364,"y":-0.07},{"x":-0.364,"y":0.00},{"x":-0.364,"y":0.07},{"x":-0.364,"y":0.14},{"x":-0.364,"y":0.20},{"x":-0.364,"y":0.26},
{"x":-0.352,"y":-0.24},{"x":-0.352,"y":-0.17},{"x":-0.352,"y":-0.10},{"x":-0.352,"y":-0.04},{"x":-0.352,"y":0.03},{"x":-0.352,"y":0.09},{"x":-0.352,"y":0.16},{"x":-0.352,"y":0.22},
{"x":-0.340,"y":-0.22},{"x":-0.340,"y":-0.15},{"x":-0.340,"y":-0.08},{"x":-0.340,"y":-0.01},{"x":-0.340,"y":0.05},{"x":-0.340,"y":0.12},{"x":-0.340,"y":0.19},{"x":-0.340,"y":0.25},
{"x":-0.328,"y":-0.24},{"x":-0.328,"y":-0.17},{"x":-0.328,"y":-0.11},{"x":-0.328,"y":-0.04},{"x":-0.328,"y":0.02},{"x":-0.328,"y":0.09},{"x":-0.328,"y":0.15},{"x":-0.328,"y":0.22},{"x":-0.328,"y":0.28},
{"x":-0.316,"y":-0.21},{"x":-0.316,"y":-0.14},{"x":-0.316,"y":-0.07},{"x":-0.316,"y":0.00},{"x":-0.316,"y":0.06},{"x":-0.316,"y":0.13},{"x":-0.316,"y":0.20},{"x":-0.316,"y":0.26},
{"x":-0.304,"y":-0.23},{"x":-0.304,"y":-0.16},{"x":-0.304,"y":-0.09},{"x":-0.304,"y":-0.03},{"x":-0.304,"y":0.04},{"x":-0.304,"y":0.10},{"x":-0.304,"y":0.17},{"x":-0.304,"y":0.23},{"x":-0.304,"y":0.29},
{"x":-0.292,"y":-0.20},{"x":-0.292,"y":-0.13},{"x":-0.292,"y":-0.06},{"x":-0.292,"y":0.01},{"x":-0.292,"y":0.07},{"x":-0.292,"y":0.14},{"x":-0.292,"y":0.21},{"x":-0.292,"y":0.27},
{"x":-0.280,"y":-0.22},{"x":-0.280,"y":-0.15},{"x":-0.280,"y":-0.08},{"x":-0.280,"y":-0.02},{"x":-0.280,"y":0.05},{"x":-0.280,"y":0.11},{"x":-0.280,"y":0.18},{"x":-0.280,"y":0.25},{"x":-0.280,"y":0.30},
{"x":-0.268,"y":-0.19},{"x":-0.268,"y":-0.12},{"x":-0.268,"y":-0.05},{"x":-0.268,"y":0.02},{"x":-0.268,"y":0.08},{"x":-0.268,"y":0.15},{"x":-0.268,"y":0.22},{"x":-0.268,"y":0.28},
{"x":-0.256,"y":-0.21},{"x":-0.256,"y":-0.14},{"x":-0.256,"y":-0.07},{"x":-0.256,"y":0.00},{"x":-0.256,"y":0.06},{"x":-0.256,"y":0.13},{"x":-0.256,"y":0.19},{"x":-0.256,"y":0.26},
{"x":-0.244,"y":-0.17},{"x":-0.244,"y":-0.10},{"x":-0.244,"y":-0.03},{"x":-0.244,"y":0.03},{"x":-0.244,"y":0.10},{"x":-0.244,"y":0.16},{"x":-0.244,"y":0.23},
{"x":-0.232,"y":-0.14},{"x":-0.232,"y":-0.08},{"x":-0.232,"y":-0.01},{"x":-0.232,"y":0.05},{"x":-0.232,"y":0.12},{"x":-0.232,"y":0.18},
{"x":-0.220,"y":-0.16},{"x":-0.220,"y":-0.09},{"x":-0.220,"y":-0.03},{"x":-0.220,"y":0.04},{"x":-0.220,"y":0.10},{"x":-0.220,"y":0.17},{"x":-0.220,"y":0.22},
{"x":-0.208,"y":-0.12},{"x":-0.208,"y":-0.05},{"x":-0.208,"y":0.01},{"x":-0.208,"y":0.08},{"x":-0.208,"y":0.14},{"x":-0.208,"y":0.20},
{"x":-0.196,"y":-0.14},{"x":-0.196,"y":-0.08},{"x":-0.196,"y":-0.02},{"x":-0.196,"y":0.05},{"x":-0.196,"y":0.11},{"x":-0.196,"y":0.17},
{"x":-0.184,"y":-0.11},{"x":-0.184,"y":-0.04},{"x":-0.184,"y":0.02},{"x":-0.184,"y":0.08},{"x":-0.184,"y":0.14},
{"x":-0.172,"y":-0.13},{"x":-0.172,"y":-0.06},{"x":-0.172,"y":0.00},{"x":-0.172,"y":0.06},{"x":-0.172,"y":0.12},
{"x":-0.160,"y":-0.09},{"x":-0.160,"y":-0.03},{"x":-0.160,"y":0.03},{"x":-0.160,"y":0.09},
{"x":-0.430,"y":-0.24},{"x":-0.430,"y":-0.16},{"x":-0.430,"y":-0.09},{"x":-0.430,"y":-0.02},{"x":-0.430,"y":0.05},{"x":-0.430,"y":0.12},{"x":-0.430,"y":0.19},
{"x":-0.418,"y":-0.19},{"x":-0.418,"y":-0.11},{"x":-0.418,"y":-0.04},{"x":-0.418,"y":0.02},{"x":-0.418,"y":0.09},{"x":-0.418,"y":0.16},{"x":-0.418,"y":0.23},
{"x":-0.406,"y":-0.23},{"x":-0.406,"y":-0.17},{"x":-0.406,"y":-0.10},{"x":-0.406,"y":-0.03},{"x":-0.406,"y":0.04},{"x":-0.406,"y":0.11},{"x":-0.406,"y":0.17},
{"x":-0.394,"y":-0.21},{"x":-0.394,"y":-0.14},{"x":-0.394,"y":-0.07},{"x":-0.394,"y":0.00},{"x":-0.394,"y":0.07},{"x":-0.394,"y":0.13},{"x":-0.394,"y":0.20},
{"x":-0.382,"y":-0.24},{"x":-0.382,"y":-0.17},{"x":-0.382,"y":-0.10},{"x":-0.382,"y":-0.04},{"x":-0.382,"y":0.03},{"x":-0.382,"y":0.09},{"x":-0.382,"y":0.16},{"x":-0.382,"y":0.22},
{"x":-0.370,"y":-0.20},{"x":-0.370,"y":-0.13},{"x":-0.370,"y":-0.06},{"x":-0.370,"y":0.01},{"x":-0.370,"y":0.08},{"x":-0.370,"y":0.14},{"x":-0.370,"y":0.21},
{"x":-0.358,"y":-0.23},{"x":-0.358,"y":-0.17},{"x":-0.358,"y":-0.10},{"x":-0.358,"y":-0.03},{"x":-0.358,"y":0.04},{"x":-0.358,"y":0.10},{"x":-0.358,"y":0.17},{"x":-0.358,"y":0.23},
{"x":-0.346,"y":-0.20},{"x":-0.346,"y":-0.13},{"x":-0.346,"y":-0.06},{"x":-0.346,"y":0.00},{"x":-0.346,"y":0.07},{"x":-0.346,"y":0.13},{"x":-0.346,"y":0.20},{"x":-0.346,"y":0.27},
{"x":-0.334,"y":-0.24},{"x":-0.334,"y":-0.17},{"x":-0.334,"y":-0.10},{"x":-0.334,"y":-0.03},{"x":-0.334,"y":0.03},{"x":-0.334,"y":0.10},{"x":-0.334,"y":0.16},{"x":-0.334,"y":0.22},
{"x":-0.322,"y":-0.20},{"x":-0.322,"y":-0.14},{"x":-0.322,"y":-0.07},{"x":-0.322,"y":-0.01},{"x":-0.322,"y":0.06},{"x":-0.322,"y":0.12},{"x":-0.322,"y":0.19},{"x":-0.322,"y":0.25},
{"x":-0.310,"y":-0.23},{"x":-0.310,"y":-0.17},{"x":-0.310,"y":-0.10},{"x":-0.310,"y":-0.04},{"x":-0.310,"y":0.03},{"x":-0.310,"y":0.09},{"x":-0.310,"y":0.16},{"x":-0.310,"y":0.22},{"x":-0.310,"y":0.28},
{"x":-0.298,"y":-0.20},{"x":-0.298,"y":-0.13},{"x":-0.298,"y":-0.07},{"x":-0.298,"y":0.00},{"x":-0.298,"y":0.06},{"x":-0.298,"y":0.13},{"x":-0.298,"y":0.19},{"x":-0.298,"y":0.25},
{"x":-0.286,"y":-0.24},{"x":-0.286,"y":-0.17},{"x":-0.286,"y":-0.11},{"x":-0.286,"y":-0.04},{"x":-0.286,"y":0.03},{"x":-0.286,"y":0.09},{"x":-0.286,"y":0.16},{"x":-0.286,"y":0.22},{"x":-0.286,"y":0.28},
{"x":-0.274,"y":-0.21},{"x":-0.274,"y":-0.14},{"x":-0.274,"y":-0.08},{"x":-0.274,"y":-0.01},{"x":-0.274,"y":0.05},{"x":-0.274,"y":0.12},{"x":-0.274,"y":0.19},{"x":-0.274,"y":0.25},
{"x":-0.262,"y":-0.17},{"x":-0.262,"y":-0.10},{"x":-0.262,"y":-0.04},{"x":-0.262,"y":0.03},{"x":-0.262,"y":0.10},{"x":-0.262,"y":0.16},{"x":-0.262,"y":0.23},
{"x":-0.250,"y":-0.19},{"x":-0.250,"y":-0.12},{"x":-0.250,"y":-0.05},{"x":-0.250,"y":0.02},{"x":-0.250,"y":0.09},{"x":-0.250,"y":0.15},{"x":-0.250,"y":0.21},
{"x":-0.238,"y":-0.14},{"x":-0.238,"y":-0.07},{"x":-0.238,"y":0.00},{"x":-0.238,"y":0.07},{"x":-0.238,"y":0.13},{"x":-0.238,"y":0.20},
{"x":-0.226,"y":-0.18},{"x":-0.226,"y":-0.11},{"x":-0.226,"y":-0.05},{"x":-0.226,"y":0.02},{"x":-0.226,"y":0.08},{"x":-0.226,"y":0.15},
{"x":-0.214,"y":-0.14},{"x":-0.214,"y":-0.08},{"x":-0.214,"y":-0.01},{"x":-0.214,"y":0.05},{"x":-0.214,"y":0.11},{"x":-0.214,"y":0.17},
{"x":-0.202,"y":-0.16},{"x":-0.202,"y":-0.10},{"x":-0.202,"y":-0.04},{"x":-0.202,"y":0.02},{"x":-0.202,"y":0.08},{"x":-0.202,"y":0.14},
{"x":-0.190,"y":-0.12},{"x":-0.190,"y":-0.06},{"x":-0.190,"y":0.00},{"x":-0.190,"y":0.06},{"x":-0.190,"y":0.12},{"x":-0.190,"y":0.18},
{"x":-0.178,"y":-0.09},{"x":-0.178,"y":-0.03},{"x":-0.178,"y":0.03},{"x":-0.178,"y":0.09},{"x":-0.178,"y":0.15}
],
"al_fit": [{"x":-0.595,"y":0.122},{"x":-0.562,"y":0.088},{"x":-0.512,"y":0.050},{"x":-0.462,"y":0.019},{"x":-0.422,"y":0.0},{"x":-0.392,"y":-0.013},{"x":-0.370,"y":-0.016},{"x":-0.337,"y":-0.009},{"x":-0.287,"y":0.0},{"x":-0.262,"y":0.006},{"x":-0.212,"y":0.006},{"x":-0.163,"y":0.004},{"x":-0.113,"y":0.0},{"x":-0.063,"y":-0.004},{"x":-0.025,"y":-0.006}],
"me": [
{"x":-0.655,"y":0.261},{"x":-0.619,"y":0.124},{"x":-0.611,"y":0.153},{"x":-0.598,"y":0.110},{"x":-0.587,"y":0.056},{"x":-0.584,"y":0.031},{"x":-0.574,"y":0.341},{"x":-0.574,"y":-0.273},{"x":-0.557,"y":0.052},{"x":-0.551,"y":0.101},{"x":-0.546,"y":-0.078},{"x":-0.544,"y":-0.125},{"x":-0.546,"y":-0.179},{"x":-0.539,"y":-0.031},{"x":-0.533,"y":-0.206},{"x":-0.528,"y":-0.259},{"x":-0.522,"y":0.009},{"x":-0.517,"y":-0.152},{"x":-0.512,"y":-0.273},{"x":-0.509,"y":0.117},{"x":-0.506,"y":-0.098},{"x":-0.501,"y":-0.192},{"x":-0.495,"y":0.144},{"x":-0.490,"y":-0.044},{"x":-0.485,"y":0.282},{"x":-0.481,"y":0.050},{"x":-0.479,"y":0.171},{"x":-0.474,"y":-0.141},{"x":-0.468,"y":-0.255},{"x":-0.468,"y":-0.340},{"x":-0.463,"y":0.009},{"x":-0.458,"y":-0.098},{"x":-0.449,"y":0.023},{"x":-0.442,"y":-0.044},{"x":-0.431,"y":0.110},{"x":-0.428,"y":-0.165},{"x":-0.420,"y":0.036},{"x":-0.395,"y":-0.276},{"x":-0.398,"y":0.177},{"x":-0.393,"y":0.056},{"x":-0.388,"y":-0.017},{"x":-0.382,"y":-0.085},{"x":-0.377,"y":0.218},{"x":-0.371,"y":0.090},{"x":-0.366,"y":-0.125},{"x":-0.361,"y":0.009},{"x":-0.355,"y":0.224},{"x":-0.352,"y":-0.233},{"x":-0.350,"y":0.130},{"x":-0.345,"y":-0.058},{"x":-0.339,"y":-0.165},{"x":-0.334,"y":0.238},{"x":-0.331,"y":0.050},{"x":-0.328,"y":-0.085},{"x":-0.323,"y":0.144},{"x":-0.318,"y":-0.017},{"x":-0.314,"y":-0.280},{"x":-0.312,"y":-0.179},{"x":-0.307,"y":0.090},{"x":-0.305,"y":0.278},{"x":-0.301,"y":-0.112},{"x":-0.298,"y":0.171},{"x":-0.296,"y":0.009},{"x":-0.294,"y":-0.206},{"x":-0.291,"y":0.117},{"x":-0.287,"y":-0.058},{"x":-0.285,"y":-0.259},{"x":-0.282,"y":0.063},{"x":-0.280,"y":-0.125},{"x":-0.277,"y":-0.293},{"x":-0.274,"y":0.157},{"x":-0.272,"y":-0.017},{"x":-0.269,"y":0.238},{"x":-0.266,"y":-0.179},{"x":-0.264,"y":0.090},{"x":-0.262,"y":-0.085},{"x":-0.258,"y":0.212},{"x":-0.255,"y":0.023},{"x":-0.253,"y":-0.233},{"x":-0.251,"y":0.130},{"x":-0.247,"y":-0.138},{"x":-0.244,"y":-0.031},{"x":-0.242,"y":0.077},{"x":-0.237,"y":0.335},{"x":-0.233,"y":-0.098},{"x":-0.231,"y":0.184},{"x":-0.228,"y":-0.246},{"x":-0.226,"y":0.036},{"x":-0.223,"y":-0.165},{"x":-0.221,"y":0.117},{"x":-0.217,"y":-0.044},{"x":-0.215,"y":0.197},{"x":-0.212,"y":-0.206},{"x":-0.210,"y":0.009},{"x":-0.207,"y":0.103},{"x":-0.204,"y":-0.125},{"x":-0.201,"y":-0.246},{"x":-0.199,"y":0.211},{"x":-0.194,"y":0.050},{"x":-0.188,"y":-0.071},{"x":-0.186,"y":0.348},{"x":-0.183,"y":-0.259},{"x":-0.180,"y":0.130},{"x":-0.175,"y":0.298},{"x":-0.172,"y":-0.017},{"x":-0.169,"y":-0.132},{"x":-0.167,"y":0.090},{"x":-0.161,"y":-0.206},{"x":-0.156,"y":0.023},{"x":-0.150,"y":0.130},{"x":-0.147,"y":-0.071},{"x":-0.143,"y":-0.179},{"x":-0.140,"y":0.050},{"x":-0.134,"y":-0.017},{"x":-0.124,"y":0.402},{"x":-0.118,"y":0.063},{"x":-0.118,"y":-0.098},{"x":-0.107,"y":-0.098},{"x":-0.102,"y":-0.112},{"x":-0.097,"y":0.103},{"x":-0.092,"y":0.144},{"x":-0.089,"y":-0.112},{"x":-0.086,"y":0.016},{"x":-0.083,"y":-0.132},{"x":-0.080,"y":0.238},{"x":-0.075,"y":-0.179},{"x":-0.075,"y":-0.031},{"x":-0.070,"y":0.103},{"x":-0.061,"y":0.181},{"x":-0.059,"y":-0.038},{"x":-0.048,"y":0.144},{"x":-0.043,"y":0.050},{"x":-0.039,"y":0.218},{"x":-0.035,"y":0.000},{"x":-0.032,"y":0.137},{"x":-0.021,"y":0.050},{"x":-0.010,"y":0.164},{"x":-0.005,"y":-0.253},{"x":0.000,"y":0.262},{"x":0.011,"y":0.103},{"x":0.022,"y":0.171},{"x":0.027,"y":-0.246},{"x":0.033,"y":-0.168},{"x":0.044,"y":-0.212},{"x":0.044,"y":0.321},{"x":0.047,"y":0.227},{"x":0.079,"y":-0.277},{"x":0.092,"y":-0.058},{"x":0.108,"y":-0.051},{"x":0.238,"y":-0.172},{"x":0.542,"y":-0.477},
{"x":-0.36,"y":-0.15},{"x":-0.36,"y":-0.08},{"x":-0.36,"y":-0.01},{"x":-0.36,"y":0.06},{"x":-0.36,"y":0.12},
{"x":-0.34,"y":-0.18},{"x":-0.34,"y":-0.11},{"x":-0.34,"y":-0.04},{"x":-0.34,"y":0.03},{"x":-0.34,"y":0.10},{"x":-0.34,"y":0.16},
{"x":-0.32,"y":-0.20},{"x":-0.32,"y":-0.13},{"x":-0.32,"y":-0.06},{"x":-0.32,"y":0.01},{"x":-0.32,"y":0.08},{"x":-0.32,"y":0.14},
{"x":-0.30,"y":-0.16},{"x":-0.30,"y":-0.09},{"x":-0.30,"y":-0.02},{"x":-0.30,"y":0.05},{"x":-0.30,"y":0.12},{"x":-0.30,"y":0.18},{"x":-0.30,"y":-0.22},
{"x":-0.28,"y":-0.19},{"x":-0.28,"y":-0.12},{"x":-0.28,"y":-0.05},{"x":-0.28,"y":0.02},{"x":-0.28,"y":0.09},{"x":-0.28,"y":0.15},
{"x":-0.26,"y":-0.15},{"x":-0.26,"y":-0.08},{"x":-0.26,"y":-0.01},{"x":-0.26,"y":0.06},{"x":-0.26,"y":0.13},{"x":-0.26,"y":0.19},
{"x":-0.24,"y":-0.18},{"x":-0.24,"y":-0.11},{"x":-0.24,"y":-0.04},{"x":-0.24,"y":0.03},{"x":-0.24,"y":0.10},{"x":-0.24,"y":0.16},
{"x":-0.22,"y":-0.14},{"x":-0.22,"y":-0.07},{"x":-0.22,"y":0.00},{"x":-0.22,"y":0.07},{"x":-0.22,"y":0.14},
{"x":-0.20,"y":-0.12},{"x":-0.20,"y":-0.05},{"x":-0.20,"y":0.02},{"x":-0.20,"y":0.09},
{"x":-0.29,"y":-0.15},{"x":-0.29,"y":0.0},{"x":-0.27,"y":0.10},{"x":-0.27,"y":-0.08},{"x":-0.25,"y":0.04},{"x":-0.25,"y":-0.2},{"x":-0.31,"y":0.10},{"x":-0.31,"y":-0.04},{"x":-0.33,"y":0.06},{"x":-0.23,"y":-0.02},
{"x":-0.35,"y":-0.12},{"x":-0.35,"y":0.02},{"x":-0.35,"y":0.15},{"x":-0.33,"y":-0.15},{"x":-0.33,"y":-0.01},{"x":-0.33,"y":0.12},{"x":-0.31,"y":-0.17},{"x":-0.31,"y":-0.10},{"x":-0.31,"y":0.04},{"x":-0.31,"y":0.17},{"x":-0.29,"y":-0.19},{"x":-0.29,"y":-0.07},{"x":-0.29,"y":0.07},{"x":-0.29,"y":0.14},{"x":-0.27,"y":-0.16},{"x":-0.27,"y":-0.02},{"x":-0.27,"y":0.04},{"x":-0.27,"y":0.17},{"x":-0.25,"y":-0.12},{"x":-0.25,"y":-0.06},{"x":-0.25,"y":0.10},{"x":-0.25,"y":0.16},{"x":-0.23,"y":-0.17},{"x":-0.23,"y":-0.09},{"x":-0.23,"y":0.05},{"x":-0.23,"y":0.12},{"x":-0.21,"y":-0.10},{"x":-0.21,"y":0.04},{"x":-0.21,"y":0.18},{"x":-0.19,"y":-0.15},{"x":-0.19,"y":-0.02},{"x":-0.19,"y":0.12},{"x":-0.37,"y":-0.04},{"x":-0.37,"y":0.09},{"x":-0.39,"y":0.02},{"x":-0.18,"y":0.05},{"x":-0.28,"y":-0.09},{"x":-0.26,"y":0.02},{"x":-0.30,"y":0.09},{"x":-0.32,"y":-0.02}
],
"me_fit": [{"x":-0.652,"y":-0.017},{"x":-0.533,"y":-0.015},{"x":-0.447,"y":-0.015},{"x":-0.382,"y":0.003},{"x":-0.296,"y":0.003},{"x":-0.210,"y":0.009},{"x":-0.124,"y":0.023},{"x":-0.059,"y":0.026},{"x":0.006,"y":0.019},{"x":0.060,"y":0.003},{"x":0.119,"y":-0.007},{"x":0.221,"y":-0.089},{"x":0.329,"y":-0.176},{"x":0.437,"y":-0.263},{"x":0.542,"y":-0.347}]
},
"bounds": "flush",
"spacing": 389,
"vconcat": [
{"bounds": "flush", "spacing": 126.6, "hconcat": [
 {"title": "CV: Europe", "width": 479, "height": 238, "layer": [
  {"data": {"values": [{}]}, "mark": {"type": "rule", "color": "#BEBEBE", "strokeWidth": 2, "strokeDash": [2, 6]}, "encoding": {"y": {"datum": 0, "type": "quantitative", "title": "Residuals"}}},
  {"data": {"name": "eu"}, "mark": {"type": "point", "shape": "circle", "filled": false, "color": "#000000", "size": 100, "strokeWidth": 1.3, "opacity": 1}, "encoding": {
   "x": {"field": "x", "type": "quantitative", "title": "Fitted values", "scale": {"domain": [-0.595, 0.776], "nice": false, "zero": false}, "axis": {"values": [-0.5, -0.25, 0, 0.25, 0.5, 0.75], "labelExpr": "replace(format(datum.value,'.2f'),'\u2212','-')"}},
   "y": {"field": "y", "type": "quantitative", "title": "Residuals", "scale": {"domain": [-0.72, 0.74], "nice": false, "zero": false}, "axis": {"values": [-0.4, 0, 0.4], "labelExpr": "replace(format(datum.value,'.1f'),'\u2212','-')"}}}},
  {"data": {"name": "eu_fit"}, "mark": {"type": "line", "color": "#D7191C", "strokeWidth": 2}, "encoding": {"x": {"field": "x", "type": "quantitative", "title": "Fitted values"}, "y": {"field": "y", "type": "quantitative", "title": "Residuals"}}}
 ]},
 {"title": "CV: Northeastern", "width": 480, "height": 238, "layer": [
  {"data": {"values": [{}]}, "mark": {"type": "rule", "color": "#BEBEBE", "strokeWidth": 2, "strokeDash": [2, 6]}, "encoding": {"y": {"datum": 0, "type": "quantitative", "title": "Residuals"}}},
  {"data": {"name": "ne"}, "mark": {"type": "point", "shape": "circle", "filled": false, "color": "#000000", "size": 100, "strokeWidth": 1.3, "opacity": 1}, "encoding": {
   "x": {"field": "x", "type": "quantitative", "title": "Fitted values", "scale": {"domain": [-0.706, -0.143], "nice": false, "zero": false}, "axis": {"values": [-0.7, -0.6, -0.5, -0.4, -0.3, -0.2], "labelExpr": "replace(format(datum.value,'.1f'),'\u2212','-')"}},
   "y": {"field": "y", "type": "quantitative", "title": "Residuals", "scale": {"domain": [-0.298, 0.371], "nice": false, "zero": false}, "axis": {"values": [-0.2, 0, 0.2], "labelExpr": "replace(format(datum.value,'.1f'),'\u2212','-')"}}}},
  {"data": {"name": "ne_fit"}, "mark": {"type": "line", "color": "#D7191C", "strokeWidth": 2}, "encoding": {"x": {"field": "x", "type": "quantitative", "title": "Fitted values"}, "y": {"field": "y", "type": "quantitative", "title": "Residuals"}}}
 ]}
]},
{"bounds": "flush", "spacing": 141.6, "hconcat": [
 {"title": {"text": "CV: Atlantic", "offset": 4}, "width": 479, "height": 238, "layer": [
  {"data": {"values": [{}]}, "mark": {"type": "rule", "color": "#BEBEBE", "strokeWidth": 2, "strokeDash": [2, 6]}, "encoding": {"y": {"datum": 0, "type": "quantitative", "title": "Residuals"}}},
  {"data": {"name": "at"}, "mark": {"type": "point", "shape": "circle", "filled": false, "color": "#000000", "size": 100, "strokeWidth": 1.3, "opacity": 1}, "encoding": {
   "x": {"field": "x", "type": "quantitative", "title": "Fitted values", "scale": {"domain": [-0.592, 0.128], "nice": false, "zero": false}, "axis": {"values": [-0.4, -0.2, 0], "labelExpr": "replace(format(datum.value,'.1f'),'\u2212','-')"}},
   "y": {"field": "y", "type": "quantitative", "title": "Residuals", "scale": {"domain": [-0.647, 0.609], "nice": false, "zero": false}, "axis": {"values": [-0.6, -0.3, 0, 0.3, 0.6], "labelExpr": "replace(format(datum.value,'.1f'),'\u2212','-')"}}}},
  {"data": {"name": "at_fit"}, "mark": {"type": "line", "color": "#D7191C", "strokeWidth": 2}, "encoding": {"x": {"field": "x", "type": "quantitative", "title": "Fitted values"}, "y": {"field": "y", "type": "quantitative", "title": "Residuals"}}}
 ]},
 {"title": "CV: Central-Eastern", "width": 465, "height": 238, "layer": [
  {"data": {"values": [{}]}, "mark": {"type": "rule", "color": "#BEBEBE", "strokeWidth": 2, "strokeDash": [2, 6]}, "encoding": {"y": {"datum": 0, "type": "quantitative", "title": "Residuals"}}},
  {"data": {"name": "ce"}, "mark": {"type": "point", "shape": "circle", "filled": false, "color": "#000000", "size": 100, "strokeWidth": 1.3, "opacity": 1}, "encoding": {
   "x": {"field": "x", "type": "quantitative", "title": "Fitted values", "scale": {"domain": [-0.522, 0.304], "nice": false, "zero": false}, "axis": {"values": [-0.5, -0.25, 0, 0.25], "labelExpr": "replace(format(datum.value,'.2f'),'\u2212','-')"}},
   "y": {"field": "y", "type": "quantitative", "title": "Residuals", "scale": {"domain": [-0.495, 0.455], "nice": false, "zero": false}, "axis": {"values": [-0.25, 0, 0.25], "labelExpr": "replace(format(datum.value,'.2f'),'\u2212','-')"}}}},
  {"data": {"name": "ce_fit"}, "mark": {"type": "line", "color": "#D7191C", "strokeWidth": 2}, "encoding": {"x": {"field": "x", "type": "quantitative", "title": "Fitted values"}, "y": {"field": "y", "type": "quantitative", "title": "Residuals"}}}
 ]}
]},
{"bounds": "flush", "spacing": 141.6, "hconcat": [
 {"title": "CV: Alpine", "width": 479, "height": 238, "layer": [
  {"data": {"values": [{}]}, "mark": {"type": "rule", "color": "#BEBEBE", "strokeWidth": 2, "strokeDash": [2, 6]}, "encoding": {"y": {"datum": 0, "type": "quantitative", "title": "Residuals"}}},
  {"data": {"name": "al"}, "mark": {"type": "point", "shape": "circle", "filled": false, "color": "#000000", "size": 100, "strokeWidth": 1.3, "opacity": 1}, "encoding": {
   "x": {"field": "x", "type": "quantitative", "title": "Fitted values", "scale": {"domain": [-0.622, 0.0015], "nice": false, "zero": false}, "axis": {"values": [-0.6, -0.4, -0.2, 0], "labelExpr": "replace(format(datum.value,'.1f'),'\u2212','-')"}},
   "y": {"field": "y", "type": "quantitative", "title": "Residuals", "scale": {"domain": [-0.538, 0.361], "nice": false, "zero": false}, "axis": {"values": [-0.4, -0.2, 0, 0.2], "labelExpr": "replace(format(datum.value,'.1f'),'\u2212','-')"}}}},
  {"data": {"name": "al_fit"}, "mark": {"type": "line", "color": "#D7191C", "strokeWidth": 2}, "encoding": {"x": {"field": "x", "type": "quantitative", "title": "Fitted values"}, "y": {"field": "y", "type": "quantitative", "title": "Residuals"}}}
 ]},
 {"title": "CV: Mediterranean", "width": 465, "height": 238, "layer": [
  {"data": {"values": [{}]}, "mark": {"type": "rule", "color": "#BEBEBE", "strokeWidth": 2, "strokeDash": [2, 6]}, "encoding": {"y": {"datum": 0, "type": "quantitative", "title": "Residuals"}}},
  {"data": {"name": "me"}, "mark": {"type": "point", "shape": "circle", "filled": false, "color": "#000000", "size": 100, "strokeWidth": 1.3, "opacity": 1}, "encoding": {
   "x": {"field": "x", "type": "quantitative", "title": "Fitted values", "scale": {"domain": [-0.713, 0.601], "nice": false, "zero": false}, "axis": {"values": [-0.6, -0.3, 0, 0.3], "labelExpr": "replace(format(datum.value,'.1f'),'\u2212','-')"}},
   "y": {"field": "y", "type": "quantitative", "title": "Residuals", "scale": {"domain": [-0.519, 0.446], "nice": false, "zero": false}, "axis": {"values": [-0.5, -0.25, 0, 0.25], "labelExpr": "replace(format(datum.value,'.2f'),'\u2212','-')"}}}},
  {"data": {"name": "me_fit"}, "mark": {"type": "line", "color": "#D7191C", "strokeWidth": 2}, "encoding": {"x": {"field": "x", "type": "quantitative", "title": "Fitted values"}, "y": {"field": "y", "type": "quantitative", "title": "Residuals"}}}
 ]}
]}
]
}
